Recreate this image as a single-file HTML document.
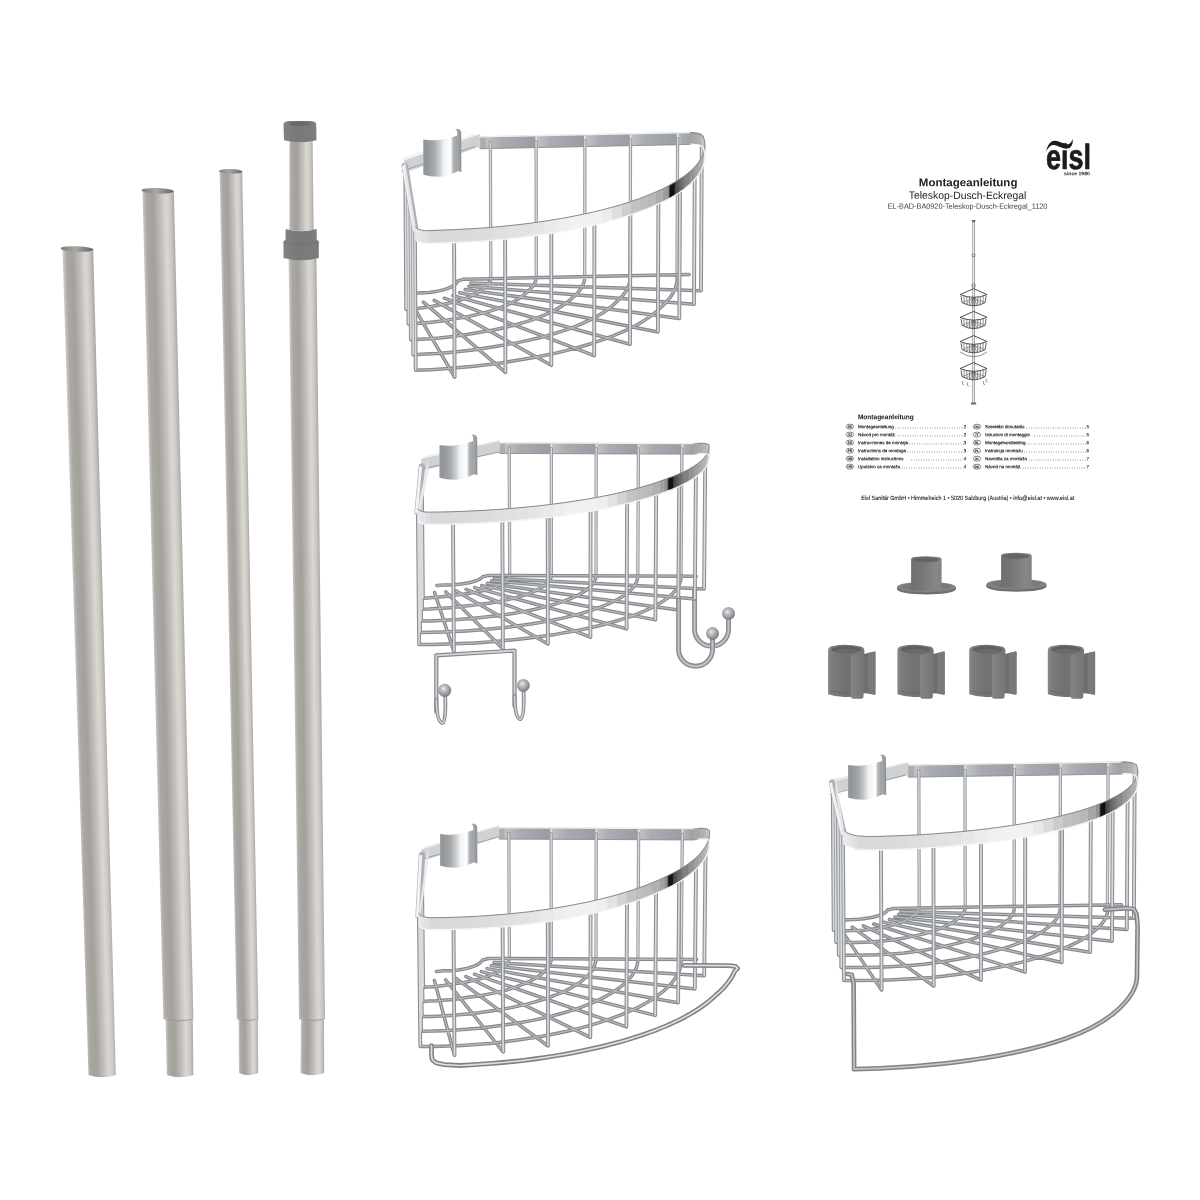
<!DOCTYPE html>
<html lang="de"><head><meta charset="utf-8"><title>Teleskop-Dusch-Eckregal</title>
<style>
html,body{margin:0;padding:0;background:#fff;}
body{width:1200px;height:1200px;position:relative;overflow:hidden;font-family:"Liberation Sans",sans-serif;}
svg text{font-family:"Liberation Sans",sans-serif;}
</style></head><body>
<svg width="1200" height="1200" viewBox="0 0 1200 1200" style="position:absolute;left:0;top:0;filter:blur(0.35px)">
<defs>
<linearGradient id="pg" x1="0" x2="1" y1="0" y2="0">
<stop offset="0" stop-color="#c9c7c3"/><stop offset="0.10" stop-color="#aba8a4"/><stop offset="0.32" stop-color="#a4a19d"/>
<stop offset="0.54" stop-color="#bfbcb8"/><stop offset="0.74" stop-color="#dbd8d4"/><stop offset="0.88" stop-color="#ccc9c4"/><stop offset="1" stop-color="#aeaba7"/>
</linearGradient>
<linearGradient id="pin" x1="0" x2="1" y1="0" y2="0">
<stop offset="0" stop-color="#7f7d7a"/><stop offset="0.45" stop-color="#a9a7a3"/><stop offset="1" stop-color="#676563"/>
</linearGradient>
<linearGradient id="capg" x1="0" x2="1" y1="0" y2="0">
<stop offset="0" stop-color="#7f8281"/><stop offset="0.4" stop-color="#767978"/><stop offset="1" stop-color="#7b7e7d"/>
</linearGradient>
</defs>
<linearGradient id="pg1" href="#pg" gradientUnits="userSpaceOnUse" x1="75.50" y1="663.00" x2="104.49" y2="662.15"/>
<path d="M62.50,249.00 L93.20,249.00 L115.80,1075.00 Q102.15,1079.50 88.50,1075.00 Z" fill="url(#pg1)"/>
<ellipse cx="77" cy="249" rx="16.3" ry="2.8" fill="url(#pin)" transform="rotate(2 77 249)"/>
<linearGradient id="pg2" href="#pg" gradientUnits="userSpaceOnUse" x1="152.90" y1="605.50" x2="183.64" y2="604.75"/>
<path d="M142.50,191.00 L173.90,191.00 L193.40,1018.00 Q178.35,1021.50 163.30,1018.00 Z" fill="url(#pg2)"/>
<linearGradient id="pg3" href="#pg" gradientUnits="userSpaceOnUse" x1="166.20" y1="1048.00" x2="193.10" y2="1047.58"/>
<path d="M165.60,1019.00 L192.80,1019.00 L193.40,1075.00 Q180.10,1079.50 166.80,1075.00 Z" fill="url(#pg3)"/>
<path d="M163.3,1018.5 Q178,1023 193.4,1018.5" stroke="#a09d99" stroke-width="1" fill="none"/>
<ellipse cx="157.6" cy="190.8" rx="16.2" ry="2.8" fill="url(#pin)" transform="rotate(2 157.6 190.8)"/>
<linearGradient id="pg4" href="#pg" gradientUnits="userSpaceOnUse" x1="228.15" y1="595.75" x2="250.30" y2="595.32"/>
<path d="M219.60,171.50 L242.20,171.50 L258.40,1018.00 Q247.55,1021.50 236.70,1018.00 Z" fill="url(#pg4)"/>
<linearGradient id="pg5" href="#pg" gradientUnits="userSpaceOnUse" x1="238.80" y1="1047.00" x2="258.00" y2="1046.86"/>
<path d="M238.60,1019.00 L257.80,1019.00 L258.20,1073.00 Q248.60,1077.50 239.00,1073.00 Z" fill="url(#pg5)"/>
<path d="M236.7,1018.5 Q247.5,1022.5 258.4,1018.5" stroke="#a09d99" stroke-width="1" fill="none"/>
<ellipse cx="230.6" cy="171.4" rx="11.8" ry="2.3" fill="url(#pin)" transform="rotate(2 230.6 171.4)"/>
<linearGradient id="pg6" href="#pg" gradientUnits="userSpaceOnUse" x1="289.30" y1="185.00" x2="313.10" y2="184.90"/>
<path d="M289.40,138.00 L312.60,138.00 L313.60,230.00 Q301.40,232.00 289.20,230.00 Z" fill="url(#pg6)"/>
<linearGradient id="pg7" href="#pg" gradientUnits="userSpaceOnUse" x1="293.80" y1="638.50" x2="320.70" y2="638.17"/>
<path d="M288.60,257.00 L316.40,257.00 L325.00,1018.00 Q312.00,1021.50 299.00,1018.00 Z" fill="url(#pg7)"/>
<linearGradient id="pg8" href="#pg" gradientUnits="userSpaceOnUse" x1="300.75" y1="1047.00" x2="324.10" y2="1047.06"/>
<path d="M301.00,1019.00 L324.00,1019.00 L324.20,1073.00 Q312.35,1077.50 300.50,1073.00 Z" fill="url(#pg8)"/>
<path d="M299,1018.5 Q312,1022.5 325,1018.5" stroke="#a09d99" stroke-width="1" fill="none"/>
<path d="M283.5,124.5 Q283.5,121 290,121 L310,121 Q316.2,121 316.2,124.5 L316.5,140.3 Q300,144.3 284,140.3 Z" fill="url(#capg)"/>
<ellipse cx="299.8" cy="123.6" rx="11" ry="2.4" fill="#686b6a"/>
<path d="M285.7,229 Q301,233.4 316.6,229 L316.8,240 L318.8,242 L318.8,258 Q301,262.6 283.5,258 L283.5,242 L285.5,240 Z" fill="url(#capg)"/>
<path d="M285.5,240 L283.5,242 Q301,246 318.8,242 L316.8,240" stroke="#6e7170" stroke-width="0.7" fill="none"/>
<defs>
<linearGradient id="backpanel" x1="0" x2="1" y1="0" y2="0">
<stop offset="0" stop-color="#c2c5c8"/><stop offset="0.3" stop-color="#a9acb0"/><stop offset="1" stop-color="#999ca0"/></linearGradient>
<linearGradient id="clipg" x1="0" x2="1" y1="0" y2="0">
<stop offset="0" stop-color="#a3a6a9"/><stop offset="0.06" stop-color="#8f9296"/><stop offset="0.3" stop-color="#a4a7aa"/><stop offset="0.46" stop-color="#c6c8ca"/><stop offset="0.6" stop-color="#f0f1f2"/><stop offset="0.8" stop-color="#ffffff"/><stop offset="0.87" stop-color="#b4b7ba"/><stop offset="1" stop-color="#9a9da0"/></linearGradient>
<linearGradient id="tabg" x1="0" x2="1" y1="0" y2="0">
<stop offset="0" stop-color="#d4d6d8"/><stop offset="0.35" stop-color="#a4a7aa"/><stop offset="1" stop-color="#8e9195"/></linearGradient>
<radialGradient id="ballg" cx="0.42" cy="0.38" r="0.62">
<stop offset="0" stop-color="#eeeff0"/><stop offset="0.3" stop-color="#bfc1c4"/><stop offset="0.75" stop-color="#939699"/><stop offset="1" stop-color="#76797d"/></radialGradient>
</defs>
<g id="b1"><path d="M479.7,136.8 L690.5,132.5 L690.4,144.4 L479.8,148.7Z" fill="#acadaf" stroke="#acadaf" stroke-width="0.6"/>
<path d="M690.5,132.5 L694.4,132.6 L694.4,144.2 L690.4,144.4Z" fill="#acadaf" stroke="#acadaf" stroke-width="0.6"/>
<path d="M404.7,161.4 L404.7,160.2 L404.8,172.3 L404.8,173.8Z" fill="#d0d1d3" stroke="#d0d1d3" stroke-width="0.6"/>
<path d="M404.7,160.2 L479.7,134.4 L479.8,146.4 L404.8,172.3Z" fill="#d0d1d3" stroke="#d0d1d3" stroke-width="0.6"/>
<path d="M485.8,136.7 L536.1,135.6 L536.1,147.5 L485.9,148.5Z" fill="url(#backpanel)"/>
<path d="M536.1,135.6 L584.9,134.7 L584.8,146.6 L536.1,147.5Z" fill="url(#backpanel)"/>
<path d="M536.1,136.6 L536.1,147.5" stroke="#e6e8ea" stroke-width="1.6"/>
<path d="M584.9,134.7 L630.5,133.7 L630.5,145.6 L584.8,146.6Z" fill="url(#backpanel)"/>
<path d="M584.9,135.7 L584.8,146.6" stroke="#e6e8ea" stroke-width="1.6"/>
<path d="M630.5,133.7 L677.6,132.8 L677.6,144.7 L630.5,145.6Z" fill="url(#backpanel)"/>
<path d="M630.5,134.7 L630.5,145.6" stroke="#e6e8ea" stroke-width="1.6"/>
<path d="M677.6,132.8 L692.8,132.5 L692.8,144.4 L677.6,144.7Z" fill="url(#backpanel)"/>
<path d="M677.6,133.8 L677.6,144.7" stroke="#e6e8ea" stroke-width="1.6"/>
<path d="M479.7,136.8 L690.5,132.5 M401.2,159.2 L475.2,134.4" fill="none" stroke="#eceeef" stroke-width="1.3"/><path d="M479.8,148.7 L690.4,144.4 M401.3,171.3 L475.3,146.4" fill="none" stroke="#8e9195" stroke-width="0.8"/>
<path d="M490.8,278.7 L490.4,142.5 M536.3,277.7 L536.1,141.6 M584.7,276.7 L584.9,140.6 M630.1,275.8 L630.5,139.7 M677.0,274.8 L677.6,138.7" fill="none" stroke="#979a9e" stroke-width="3.3" stroke-linecap="round" stroke-linejoin="round"/><path d="M490.8,278.7 L490.4,142.5 M536.3,277.7 L536.1,141.6 M584.7,276.7 L584.9,140.6 M630.1,275.8 L630.5,139.7 M677.0,274.8 L677.6,138.7" fill="none" stroke="#d6d8da" stroke-width="1.39" stroke-linecap="round" stroke-linejoin="round"/>
<path d="M490.8,278.7 L490.3,280.2 L489.6,281.7 L488.6,283.2 L487.3,284.7 L485.8,286.1 L484.0,287.6 L482.0,289.1 L480.4,290.5 L478.5,291.9 L476.4,293.2 L474.0,294.5 L471.5,295.8 L468.7,297.1 L465.7,298.3 L462.5,299.4 L459.1,300.5 L455.5,301.5 L451.8,302.5 L447.8,303.4 L443.8,304.2 L439.6,305.0 L435.3,305.7 L431.3,306.4 L427.3,307.1 L423.2,307.7 L419.0,308.3 L414.8,308.7 L410.5,309.1 L406.2,309.4 M536.3,277.7 L535.9,280.0 L535.1,282.3 L534.0,284.5 L532.4,286.8 L530.5,289.0 L528.2,291.3 L525.5,293.5 L523.0,295.6 L520.2,297.7 L517.0,299.8 L513.5,301.8 L509.6,303.8 L505.4,305.7 L500.8,307.5 L496.0,309.2 L490.8,310.9 L485.4,312.5 L479.7,313.9 L473.8,315.3 L467.6,316.6 L461.2,317.8 L454.7,318.8 L448.4,319.9 L442.0,320.9 L435.5,321.8 L428.8,322.5 L422.1,323.1 L415.3,323.6 L408.5,324.0 M584.7,276.7 L584.5,279.8 L583.8,282.9 L582.5,286.0 L580.7,289.1 L578.3,292.1 L575.4,295.2 L572.0,298.2 L568.7,301.1 L564.9,304.0 L560.6,306.9 L555.8,309.6 L550.5,312.3 L544.8,314.9 L538.6,317.4 L532.0,319.8 L525.0,322.1 L517.6,324.3 L509.8,326.3 L501.7,328.2 L493.3,330.0 L484.5,331.6 L475.5,333.0 L466.8,334.5 L457.8,335.8 L448.7,336.9 L439.4,337.9 L430.0,338.7 L420.5,339.3 L410.9,339.7 M630.1,275.8 L630.1,279.6 L629.4,283.5 L628.0,287.3 L625.9,291.2 L623.2,295.0 L619.8,298.8 L615.8,302.6 L611.7,306.3 L607.0,310.0 L601.7,313.5 L595.7,317.0 L589.2,320.4 L582.0,323.6 L574.3,326.8 L566.1,329.8 L557.3,332.7 L548.0,335.4 L538.3,338.0 L528.1,340.4 L517.5,342.6 L506.6,344.6 L495.3,346.5 L484.2,348.3 L472.8,349.9 L461.2,351.3 L449.4,352.4 L437.5,353.4 L425.4,354.1 L413.3,354.7 M677.0,274.8 L677.1,279.4 L676.5,284.1 L675.1,288.7 L672.8,293.4 L669.7,298.0 L665.8,302.7 L661.1,307.2 L656.3,311.7 L650.7,316.1 L644.3,320.4 L637.2,324.7 L629.3,328.8 L620.7,332.7 L611.4,336.5 L601.5,340.2 L590.9,343.7 L579.7,347.0 L568.0,350.1 L555.7,353.1 L542.9,355.8 L529.6,358.2 L515.9,360.5 L502.4,362.7 L488.5,364.6 L474.3,366.2 L459.9,367.6 L445.3,368.8 L430.6,369.7 L415.7,370.3 M470.8,283.0 L701.0,290.8 M468.8,286.2 L694.0,304.3 M465.1,289.6 L679.3,318.6 M459.7,292.7 L657.9,332.0 M452.9,295.6 L630.0,344.2 M444.4,298.2 L594.2,355.6 M434.2,300.4 L551.3,365.3 M423.4,302.1 L505.4,372.4 M411.5,303.1 L454.6,377.2 M411.1,293.9 L418.7,293.1 L418.7,293.1 L424.0,292.8 L429.2,292.4 L434.2,291.7 L438.8,290.9 L443.1,289.9 L447.0,288.7 L450.3,287.4 L453.1,285.9 L455.2,284.4 L456.7,282.8 L457.4,281.1 L463.6,279.2 L477.2,278.9 L689.1,274.4" fill="none" stroke="#85888c" stroke-width="3.5" stroke-linecap="round" stroke-linejoin="round"/><path d="M490.8,278.7 L490.3,280.2 L489.6,281.7 L488.6,283.2 L487.3,284.7 L485.8,286.1 L484.0,287.6 L482.0,289.1 L480.4,290.5 L478.5,291.9 L476.4,293.2 L474.0,294.5 L471.5,295.8 L468.7,297.1 L465.7,298.3 L462.5,299.4 L459.1,300.5 L455.5,301.5 L451.8,302.5 L447.8,303.4 L443.8,304.2 L439.6,305.0 L435.3,305.7 L431.3,306.4 L427.3,307.1 L423.2,307.7 L419.0,308.3 L414.8,308.7 L410.5,309.1 L406.2,309.4 M536.3,277.7 L535.9,280.0 L535.1,282.3 L534.0,284.5 L532.4,286.8 L530.5,289.0 L528.2,291.3 L525.5,293.5 L523.0,295.6 L520.2,297.7 L517.0,299.8 L513.5,301.8 L509.6,303.8 L505.4,305.7 L500.8,307.5 L496.0,309.2 L490.8,310.9 L485.4,312.5 L479.7,313.9 L473.8,315.3 L467.6,316.6 L461.2,317.8 L454.7,318.8 L448.4,319.9 L442.0,320.9 L435.5,321.8 L428.8,322.5 L422.1,323.1 L415.3,323.6 L408.5,324.0 M584.7,276.7 L584.5,279.8 L583.8,282.9 L582.5,286.0 L580.7,289.1 L578.3,292.1 L575.4,295.2 L572.0,298.2 L568.7,301.1 L564.9,304.0 L560.6,306.9 L555.8,309.6 L550.5,312.3 L544.8,314.9 L538.6,317.4 L532.0,319.8 L525.0,322.1 L517.6,324.3 L509.8,326.3 L501.7,328.2 L493.3,330.0 L484.5,331.6 L475.5,333.0 L466.8,334.5 L457.8,335.8 L448.7,336.9 L439.4,337.9 L430.0,338.7 L420.5,339.3 L410.9,339.7 M630.1,275.8 L630.1,279.6 L629.4,283.5 L628.0,287.3 L625.9,291.2 L623.2,295.0 L619.8,298.8 L615.8,302.6 L611.7,306.3 L607.0,310.0 L601.7,313.5 L595.7,317.0 L589.2,320.4 L582.0,323.6 L574.3,326.8 L566.1,329.8 L557.3,332.7 L548.0,335.4 L538.3,338.0 L528.1,340.4 L517.5,342.6 L506.6,344.6 L495.3,346.5 L484.2,348.3 L472.8,349.9 L461.2,351.3 L449.4,352.4 L437.5,353.4 L425.4,354.1 L413.3,354.7 M677.0,274.8 L677.1,279.4 L676.5,284.1 L675.1,288.7 L672.8,293.4 L669.7,298.0 L665.8,302.7 L661.1,307.2 L656.3,311.7 L650.7,316.1 L644.3,320.4 L637.2,324.7 L629.3,328.8 L620.7,332.7 L611.4,336.5 L601.5,340.2 L590.9,343.7 L579.7,347.0 L568.0,350.1 L555.7,353.1 L542.9,355.8 L529.6,358.2 L515.9,360.5 L502.4,362.7 L488.5,364.6 L474.3,366.2 L459.9,367.6 L445.3,368.8 L430.6,369.7 L415.7,370.3 M470.8,283.0 L701.0,290.8 M468.8,286.2 L694.0,304.3 M465.1,289.6 L679.3,318.6 M459.7,292.7 L657.9,332.0 M452.9,295.6 L630.0,344.2 M444.4,298.2 L594.2,355.6 M434.2,300.4 L551.3,365.3 M423.4,302.1 L505.4,372.4 M411.5,303.1 L454.6,377.2 M411.1,293.9 L418.7,293.1 L418.7,293.1 L424.0,292.8 L429.2,292.4 L434.2,291.7 L438.8,290.9 L443.1,289.9 L447.0,288.7 L450.3,287.4 L453.1,285.9 L455.2,284.4 L456.7,282.8 L457.4,281.1 L463.6,279.2 L477.2,278.9 L689.1,274.4" fill="none" stroke="#b6b8ba" stroke-width="1.26" stroke-linecap="round" stroke-linejoin="round"/>
<path d="M406.2,309.4 L405.3,170.8 M408.5,324.0 L407.6,184.7 M410.9,339.7 L410.1,199.8 M413.3,354.7 L412.4,214.0 M415.7,370.3 L414.9,228.9 M701.0,290.8 L701.8,140.9 M694.0,304.3 L694.7,175.7 M679.3,318.6 L680.0,188.3 M657.9,332.0 L658.4,200.1 M630.0,344.2 L630.4,210.8 M594.2,355.6 L594.4,221.2 M551.3,365.3 L551.3,229.5 M505.4,372.4 L505.1,235.3 M454.6,377.2 L454.1,238.6" fill="none" stroke="#8d9094" stroke-width="3.9" stroke-linecap="butt" stroke-linejoin="round"/><path d="M406.2,309.4 L405.3,170.8 M408.5,324.0 L407.6,184.7 M410.9,339.7 L410.1,199.8 M413.3,354.7 L412.4,214.0 M415.7,370.3 L414.9,228.9 M701.0,290.8 L701.8,140.9 M694.0,304.3 L694.7,175.7 M679.3,318.6 L680.0,188.3 M657.9,332.0 L658.4,200.1 M630.0,344.2 L630.4,210.8 M594.2,355.6 L594.4,221.2 M551.3,365.3 L551.3,229.5 M505.4,372.4 L505.1,235.3 M454.6,377.2 L454.1,238.6" fill="none" stroke="#d8dadc" stroke-width="1.64" stroke-linecap="butt" stroke-linejoin="round"/>
<path d="M404.8,165.7 L415.3,229.9" fill="none" stroke="#aeb1b8" stroke-width="6.6" stroke-linecap="round"/>
<path d="M403.5,166.7 L414.0,229.9" fill="none" stroke="#f3f4f5" stroke-width="2.8" stroke-linecap="round"/>
<path d="M690.5,132.5 L694.3,132.6 L694.2,144.2 L690.4,144.4Z" fill="#a6a7a9" stroke="#a6a7a9" stroke-width="0.6"/>
<path d="M694.3,132.6 L697.6,132.9 L697.6,144.3 L694.2,144.2Z" fill="#a8a9ab" stroke="#a8a9ab" stroke-width="0.6"/>
<path d="M697.6,132.9 L700.3,133.5 L700.2,144.7 L697.6,144.3Z" fill="#adaeb0" stroke="#adaeb0" stroke-width="0.6"/>
<path d="M700.3,133.5 L702.0,134.3 L701.9,145.3 L700.2,144.7Z" fill="#b3b4b6" stroke="#b3b4b6" stroke-width="0.6"/>
<path d="M702.0,134.3 L702.8,135.3 L702.7,146.1 L701.9,145.3Z" fill="#bcbdbf" stroke="#bcbdbf" stroke-width="0.6"/>
<path d="M702.8,135.3 L702.4,136.5 L702.4,147.0 L702.7,146.1Z" fill="#c5c6c8" stroke="#c5c6c8" stroke-width="0.6"/>
<path d="M702.4,136.5 L703.2,136.3 L703.2,147.1 L702.4,147.0Z" fill="#c9cacc" stroke="#c9cacc" stroke-width="0.6"/>
<path d="M703.2,136.3 L704.5,140.6 L704.4,151.8 L703.2,147.1Z" fill="#c4c5c7" stroke="#c4c5c7" stroke-width="0.6"/>
<path d="M704.5,140.6 L704.9,145.0 L704.8,156.6 L704.4,151.8Z" fill="#c3c4c6" stroke="#c3c4c6" stroke-width="0.6"/>
<path d="M704.9,145.0 L704.5,149.4 L704.4,161.3 L704.8,156.6Z" fill="#bfc0c2" stroke="#bfc0c2" stroke-width="0.6"/>
<path d="M704.5,149.4 L703.3,153.9 L703.2,166.0 L704.4,161.3Z" fill="#b9babc" stroke="#b9babc" stroke-width="0.6"/>
<path d="M703.3,153.9 L701.2,158.4 L701.1,170.7 L703.2,166.0Z" fill="#b3b4b6" stroke="#b3b4b6" stroke-width="0.6"/>
<path d="M701.2,158.4 L698.2,162.9 L698.1,175.4 L701.1,170.7Z" fill="#aaabad" stroke="#aaabad" stroke-width="0.6"/>
<path d="M698.2,162.9 L694.4,167.4 L694.3,180.0 L698.1,175.4Z" fill="#a2a3a5" stroke="#a2a3a5" stroke-width="0.6"/>
<path d="M694.4,167.4 L689.8,171.8 L689.7,184.6 L694.3,180.0Z" fill="#949597" stroke="#949597" stroke-width="0.6"/>
<path d="M689.8,171.8 L684.2,176.2 L684.2,189.1 L689.7,184.6Z" fill="#838486" stroke="#838486" stroke-width="0.6"/>
<path d="M684.2,176.2 L682.8,177.2 L682.7,190.2 L684.2,189.1Z" fill="#727375" stroke="#727375" stroke-width="0.6"/>
<path d="M682.8,177.2 L681.9,177.8 L681.8,190.8 L682.7,190.2Z" fill="#6d6e70" stroke="#6d6e70" stroke-width="0.6"/>
<path d="M681.9,177.8 L681.0,178.4 L680.9,191.4 L681.8,190.8Z" fill="#696a6c" stroke="#696a6c" stroke-width="0.6"/>
<path d="M681.0,178.4 L680.1,179.0 L680.0,192.1 L680.9,191.4Z" fill="#656668" stroke="#656668" stroke-width="0.6"/>
<path d="M680.1,179.0 L679.2,179.6 L679.1,192.7 L680.0,192.1Z" fill="#606163" stroke="#606163" stroke-width="0.6"/>
<path d="M679.2,179.6 L678.3,180.2 L678.2,193.3 L679.1,192.7Z" fill="#5a5b5d" stroke="#5a5b5d" stroke-width="0.6"/>
<path d="M678.3,180.2 L677.3,180.8 L677.2,193.9 L678.2,193.3Z" fill="#545557" stroke="#545557" stroke-width="0.6"/>
<path d="M677.3,180.8 L676.3,181.4 L676.3,194.5 L677.2,193.9Z" fill="#4e4f51" stroke="#4e4f51" stroke-width="0.6"/>
<path d="M676.3,181.4 L675.4,182.0 L675.3,195.1 L676.3,194.5Z" fill="#48494b" stroke="#48494b" stroke-width="0.6"/>
<path d="M675.4,182.0 L674.4,182.6 L674.3,195.7 L675.3,195.1Z" fill="#424345" stroke="#424345" stroke-width="0.6"/>
<path d="M674.4,182.6 L673.3,183.2 L673.3,196.3 L674.3,195.7Z" fill="#08090b" stroke="#08090b" stroke-width="0.6"/>
<path d="M673.3,183.2 L672.3,183.8 L672.3,196.9 L673.3,196.3Z" fill="#08090b" stroke="#08090b" stroke-width="0.6"/>
<path d="M672.3,183.8 L671.3,184.4 L671.2,197.5 L672.3,196.9Z" fill="#08090b" stroke="#08090b" stroke-width="0.6"/>
<path d="M671.3,184.4 L670.2,185.0 L670.1,198.1 L671.2,197.5Z" fill="#08090b" stroke="#08090b" stroke-width="0.6"/>
<path d="M670.2,185.0 L669.1,185.6 L669.1,198.7 L670.1,198.1Z" fill="#08090b" stroke="#08090b" stroke-width="0.6"/>
<path d="M669.1,185.6 L668.0,186.2 L668.0,199.2 L669.1,198.7Z" fill="#88898b" stroke="#88898b" stroke-width="0.6"/>
<path d="M668.0,186.2 L666.9,186.8 L666.9,199.8 L668.0,199.2Z" fill="#8e8f91" stroke="#8e8f91" stroke-width="0.6"/>
<path d="M666.9,186.8 L662.9,188.8 L662.9,201.9 L666.9,199.8Z" fill="#9b9c9e" stroke="#9b9c9e" stroke-width="0.6"/>
<path d="M662.9,188.8 L655.6,192.1 L655.6,205.2 L662.9,201.9Z" fill="#acadaf" stroke="#acadaf" stroke-width="0.6"/>
<path d="M655.6,192.1 L647.8,195.4 L647.8,208.5 L655.6,205.2Z" fill="#b8b9bb" stroke="#b8b9bb" stroke-width="0.6"/>
<path d="M647.8,195.4 L639.5,198.6 L639.5,211.7 L647.8,208.5Z" fill="#bcbdbf" stroke="#bcbdbf" stroke-width="0.6"/>
<path d="M639.5,198.6 L630.7,201.6 L630.7,214.8 L639.5,211.7Z" fill="#c0c1c3" stroke="#c0c1c3" stroke-width="0.6"/>
<path d="M630.7,201.6 L621.4,204.6 L621.4,217.7 L630.7,214.8Z" fill="#cecfd1" stroke="#cecfd1" stroke-width="0.6"/>
<path d="M621.4,204.6 L611.6,207.4 L611.6,220.5 L621.4,217.7Z" fill="#dedfe1" stroke="#dedfe1" stroke-width="0.6"/>
<path d="M611.6,207.4 L601.4,210.1 L601.4,223.2 L611.6,220.5Z" fill="#ebecee" stroke="#ebecee" stroke-width="0.6"/>
<path d="M601.4,210.1 L590.8,212.6 L590.8,225.8 L601.4,223.2Z" fill="#f0f1f3" stroke="#f0f1f3" stroke-width="0.6"/>
<path d="M590.8,212.6 L579.8,214.9 L579.8,228.1 L590.8,225.8Z" fill="#f0f1f3" stroke="#f0f1f3" stroke-width="0.6"/>
<path d="M579.8,214.9 L568.5,217.2 L568.5,230.4 L579.8,228.1Z" fill="#f0f1f3" stroke="#f0f1f3" stroke-width="0.6"/>
<path d="M568.5,217.2 L556.8,219.2 L556.8,232.4 L568.5,230.4Z" fill="#edeef0" stroke="#edeef0" stroke-width="0.6"/>
<path d="M556.8,219.2 L544.8,221.2 L544.8,234.3 L556.8,232.4Z" fill="#e9eaec" stroke="#e9eaec" stroke-width="0.6"/>
<path d="M544.8,221.2 L532.6,222.9 L532.6,236.0 L544.8,234.3Z" fill="#e5e6e8" stroke="#e5e6e8" stroke-width="0.6"/>
<path d="M532.6,222.9 L520.1,224.5 L520.1,237.5 L532.6,236.0Z" fill="#e1e2e4" stroke="#e1e2e4" stroke-width="0.6"/>
<path d="M520.1,224.5 L507.4,225.8 L507.4,238.9 L520.1,237.5Z" fill="#e0e1e3" stroke="#e0e1e3" stroke-width="0.6"/>
<path d="M507.4,225.8 L494.5,227.1 L494.6,240.1 L507.4,238.9Z" fill="#dedfe1" stroke="#dedfe1" stroke-width="0.6"/>
<path d="M494.5,227.1 L481.5,228.1 L481.6,241.1 L494.6,240.1Z" fill="#dcdddf" stroke="#dcdddf" stroke-width="0.6"/>
<path d="M481.5,228.1 L468.4,228.9 L468.4,241.9 L481.6,241.1Z" fill="#dadbdd" stroke="#dadbdd" stroke-width="0.6"/>
<path d="M468.4,228.9 L455.2,229.6 L455.2,242.5 L468.4,241.9Z" fill="#d9dadc" stroke="#d9dadc" stroke-width="0.6"/>
<path d="M455.2,229.6 L441.9,230.1 L442.0,242.9 L455.2,242.5Z" fill="#d8d9db" stroke="#d8d9db" stroke-width="0.6"/>
<path d="M441.9,230.1 L428.7,230.4 L428.8,243.1 L442.0,242.9Z" fill="#d8d9db" stroke="#d8d9db" stroke-width="0.6"/>
<path d="M429.7,230.7 L425.5,230.6 L425.5,243.2 L429.8,243.4Z" fill="#dedfe1" stroke="#dedfe1" stroke-width="0.6"/>
<path d="M425.5,230.6 L421.6,230.2 L421.7,242.8 L425.5,243.2Z" fill="#e1e2e4" stroke="#e1e2e4" stroke-width="0.6"/>
<path d="M421.6,230.2 L418.5,229.3 L418.6,242.0 L421.7,242.8Z" fill="#e4e5e7" stroke="#e4e5e7" stroke-width="0.6"/>
<path d="M418.5,229.3 L416.4,228.1 L416.5,240.8 L418.6,242.0Z" fill="#e6e7e9" stroke="#e6e7e9" stroke-width="0.6"/>
<path d="M416.4,228.1 L415.5,226.7 L415.6,239.3 L416.5,240.8Z" fill="#e8e9eb" stroke="#e8e9eb" stroke-width="0.6"/>
<path d="M415.5,226.7 L404.7,161.4 L404.8,173.8 L415.6,239.3Z" fill="#e8e9eb" stroke="#e8e9eb" stroke-width="0.6"/>
<path d="M689.9,132.6 L693.7,132.9 L697.1,133.5 L699.8,134.3 L701.6,135.3 L702.4,136.5 L703.2,136.3 L704.5,140.6 L704.9,145.0 L704.5,149.4 L703.3,153.9 L701.2,158.4 L698.2,162.9 L694.4,167.4 L689.8,171.8 L684.2,176.2 L682.8,177.2 L681.9,177.8 L681.0,178.4 L680.1,179.0 L679.2,179.6 L678.3,180.2 L677.3,180.8 L676.3,181.4 L675.4,182.0 L674.4,182.6 L673.3,183.2 L672.3,183.8 L671.3,184.4 L670.2,185.0 L669.1,185.6 L668.0,186.2 L666.9,186.8 L662.9,188.8 L655.6,192.1 L647.8,195.4 L639.5,198.6 L630.7,201.6 L621.4,204.6 L611.6,207.4 L601.4,210.1 L590.8,212.6 L579.8,214.9 L568.5,217.2 L556.8,219.2 L544.8,221.2 L532.6,222.9 L520.1,224.5 L507.4,225.8 L494.5,227.1 L481.5,228.1 L468.4,228.9 L455.2,229.6 L441.9,230.1 L429.7,230.7 L425.5,230.6 L421.6,230.2 L418.5,229.3 L416.4,228.1 L415.5,226.7" fill="none" stroke="#85888c" stroke-width="1.0"/><path d="M689.9,144.2 L693.7,144.3 L697.0,144.7 L699.7,145.3 L701.5,146.1 L702.4,147.0 L703.2,147.1 L704.4,151.8 L704.8,156.6 L704.4,161.3 L703.2,166.0 L701.1,170.7 L698.1,175.4 L694.3,180.0 L689.7,184.6 L684.2,189.1 L682.7,190.2 L681.8,190.8 L680.9,191.4 L680.0,192.1 L679.1,192.7 L678.2,193.3 L677.2,193.9 L676.3,194.5 L675.3,195.1 L674.3,195.7 L673.3,196.3 L672.3,196.9 L671.2,197.5 L670.1,198.1 L669.1,198.7 L668.0,199.2 L666.9,199.8 L662.9,201.9 L655.6,205.2 L647.8,208.5 L639.5,211.7 L630.7,214.8 L621.4,217.7 L611.6,220.5 L601.4,223.2 L590.8,225.8 L579.8,228.1 L568.5,230.4 L556.8,232.4 L544.8,234.3 L532.6,236.0 L520.1,237.5 L507.4,238.9 L494.6,240.1 L481.6,241.1 L468.4,241.9 L455.2,242.5 L442.0,242.9 L429.8,243.4 L425.5,243.2 L421.7,242.8 L418.6,242.0 L416.5,240.8 L415.6,239.3" fill="none" stroke="#f4f5f6" stroke-width="1.3"/>
<path d="M423.2,139.4 Q438.7,142.0 457.6,135.4 L457.6,171.5 L448.0,175.4 Q437.0,178.6 423.2,174.8Z" fill="url(#clipg)"/>
<path d="M457.2,133.8 Q457.6,130.3 454.8,129.4 Q459.4,127.4 461.2,131.8 L461.4,172.0 L457.4,170.8Z" fill="url(#tabg)"/></g>
<g id="b2"><path d="M499.4,442.9 L693.8,443.6 L693.7,454.1 L499.4,453.4Z" fill="#acadaf" stroke="#acadaf" stroke-width="0.6"/>
<path d="M693.8,443.6 L697.5,443.3 L697.4,453.7 L693.7,454.1Z" fill="#acadaf" stroke="#acadaf" stroke-width="0.6"/>
<path d="M421.9,462.6 L421.9,459.0 L422.0,470.4 L422.0,474.2Z" fill="#d0d1d3" stroke="#d0d1d3" stroke-width="0.6"/>
<path d="M421.9,459.0 L499.4,440.7 L499.4,451.9 L422.0,470.4Z" fill="#d0d1d3" stroke="#d0d1d3" stroke-width="0.6"/>
<path d="M505.0,442.9 L551.3,443.1 L551.3,453.6 L505.0,453.4Z" fill="url(#backpanel)"/>
<path d="M551.3,443.1 L596.3,443.2 L596.2,453.7 L551.3,453.6Z" fill="url(#backpanel)"/>
<path d="M551.3,444.1 L551.3,453.6" stroke="#e6e8ea" stroke-width="1.6"/>
<path d="M596.3,443.2 L638.4,443.4 L638.4,453.9 L596.2,453.7Z" fill="url(#backpanel)"/>
<path d="M596.3,444.2 L596.2,453.7" stroke="#e6e8ea" stroke-width="1.6"/>
<path d="M638.4,443.4 L682.0,443.5 L681.9,454.0 L638.4,453.9Z" fill="url(#backpanel)"/>
<path d="M638.4,444.4 L638.4,453.9" stroke="#e6e8ea" stroke-width="1.6"/>
<path d="M682.0,443.5 L696.0,443.6 L695.9,454.1 L681.9,454.0Z" fill="url(#backpanel)"/>
<path d="M682.0,444.5 L681.9,454.0" stroke="#e6e8ea" stroke-width="1.6"/>
<path d="M499.4,442.9 L693.8,443.6 M424.4,457.0 L499.4,440.7" fill="none" stroke="#eceeef" stroke-width="1.3"/><path d="M499.4,453.4 L693.7,454.1 M424.5,468.4 L499.4,451.9" fill="none" stroke="#8e9195" stroke-width="0.8"/>
<path d="M509.7,575.4 L509.2,448.2 M551.4,575.6 L551.3,448.3 M596.0,575.8 L596.2,448.5 M637.8,575.9 L638.4,448.6 M681.0,576.1 L681.9,448.8" fill="none" stroke="#979a9e" stroke-width="3.3" stroke-linecap="round" stroke-linejoin="round"/><path d="M509.7,575.4 L509.2,448.2 M551.4,575.6 L551.3,448.3 M596.0,575.8 L596.2,448.5 M637.8,575.9 L638.4,448.6 M681.0,576.1 L681.9,448.8" fill="none" stroke="#d6d8da" stroke-width="1.39" stroke-linecap="round" stroke-linejoin="round"/>
<path d="M694.6,588 L694.6,630.5 A17,17 0 0 0 728.5,630.5 L728.5,619" fill="none" stroke="#8b8e92" stroke-width="5.0" stroke-linecap="round" stroke-linejoin="round"/><path d="M694.6,588 L694.6,630.5 A17,17 0 0 0 728.5,630.5 L728.5,619" fill="none" stroke="#c0c2c4" stroke-width="2.00" stroke-linecap="round" stroke-linejoin="round"/>
<circle cx="728.5" cy="613.5" r="6.5" fill="url(#ballg)"/>
<path d="M509.7,575.4 L509.4,576.6 L509.0,577.7 L508.2,578.8 L507.3,579.9 L506.1,581.0 L504.7,582.1 L503.0,583.2 L501.2,584.2 L499.1,585.3 L496.8,586.3 L494.3,587.2 L491.6,588.1 L488.7,589.0 L485.7,589.9 L482.4,590.7 L479.0,591.5 L475.5,592.2 L471.8,592.8 L467.9,593.5 L464.0,594.0 L459.9,594.5 L455.8,595.0 L451.2,595.6 L446.6,596.2 L441.9,596.8 L437.2,597.2 L432.4,597.6 L427.6,598.0 L422.9,598.3 M551.4,575.6 L551.1,577.3 L550.5,579.0 L549.4,580.7 L548.1,582.4 L546.3,584.1 L544.2,585.8 L541.8,587.4 L539.0,589.0 L535.9,590.6 L532.4,592.1 L528.7,593.6 L524.6,595.0 L520.3,596.4 L515.6,597.7 L510.7,598.9 L505.5,600.1 L500.1,601.2 L494.5,602.2 L488.6,603.2 L482.6,604.0 L476.4,604.8 L470.0,605.5 L463.4,606.3 L456.6,607.0 L449.8,607.7 L442.9,608.2 L436.0,608.6 L429.0,609.0 L422.0,609.2 M596.0,575.8 L595.7,578.1 L594.9,580.5 L593.6,582.8 L591.8,585.1 L589.5,587.4 L586.7,589.7 L583.4,592.0 L579.7,594.2 L575.5,596.3 L570.9,598.4 L565.8,600.4 L560.3,602.4 L554.3,604.3 L548.0,606.1 L541.3,607.8 L534.2,609.5 L526.8,611.0 L519.1,612.4 L511.1,613.7 L502.8,614.9 L494.2,616.0 L485.5,617.0 L476.6,617.9 L467.6,618.8 L458.4,619.5 L449.2,620.1 L439.8,620.6 L430.5,620.9 L421.1,621.1 M637.8,575.9 L637.5,578.9 L636.6,581.8 L635.1,584.7 L632.9,587.7 L630.2,590.6 L626.8,593.4 L622.8,596.2 L618.2,599.0 L613.0,601.7 L607.3,604.4 L601.0,606.9 L594.1,609.4 L586.7,611.8 L578.8,614.1 L570.4,616.3 L561.5,618.4 L552.2,620.3 L542.5,622.1 L532.5,623.8 L522.1,625.3 L511.3,626.7 L500.3,627.9 L489.3,629.1 L478.0,630.1 L466.6,630.9 L455.1,631.5 L443.5,632.0 L431.8,632.3 L420.1,632.5 M681.0,576.1 L680.8,579.7 L679.8,583.2 L678.1,586.7 L675.7,590.3 L672.4,593.8 L668.5,597.3 L663.8,600.7 L658.3,604.1 L652.2,607.4 L645.3,610.6 L637.7,613.8 L629.5,616.8 L620.6,619.7 L611.1,622.5 L600.9,625.2 L590.2,627.7 L579.0,630.1 L567.2,632.3 L555.0,634.4 L542.3,636.2 L529.3,637.9 L515.9,639.4 L502.6,640.8 L489.1,641.9 L475.3,642.9 L461.4,643.6 L447.3,644.1 L433.2,644.4 L419.1,644.5 M494.4,578.4 L704.1,588.9 M491.7,580.8 L694.8,599.1 M487.4,583.3 L678.2,609.9 M481.7,585.6 L655.4,619.9 M474.7,587.6 L626.6,628.9 M466.1,589.4 L590.4,637.2 M456.2,590.9 L547.9,644.0 M445.8,591.9 L502.9,648.7 M434.6,592.5 L453.9,651.4 M436.9,585.5 L444.0,585.0 L444.0,585.0 L448.9,584.9 L453.8,584.7 L458.6,584.3 L463.1,583.8 L467.3,583.1 L471.1,582.2 L474.5,581.3 L477.4,580.3 L479.7,579.1 L481.5,577.9 L482.7,576.7 L488.8,575.4 L501.3,575.4 L696.3,576.2" fill="none" stroke="#85888c" stroke-width="3.5" stroke-linecap="round" stroke-linejoin="round"/><path d="M509.7,575.4 L509.4,576.6 L509.0,577.7 L508.2,578.8 L507.3,579.9 L506.1,581.0 L504.7,582.1 L503.0,583.2 L501.2,584.2 L499.1,585.3 L496.8,586.3 L494.3,587.2 L491.6,588.1 L488.7,589.0 L485.7,589.9 L482.4,590.7 L479.0,591.5 L475.5,592.2 L471.8,592.8 L467.9,593.5 L464.0,594.0 L459.9,594.5 L455.8,595.0 L451.2,595.6 L446.6,596.2 L441.9,596.8 L437.2,597.2 L432.4,597.6 L427.6,598.0 L422.9,598.3 M551.4,575.6 L551.1,577.3 L550.5,579.0 L549.4,580.7 L548.1,582.4 L546.3,584.1 L544.2,585.8 L541.8,587.4 L539.0,589.0 L535.9,590.6 L532.4,592.1 L528.7,593.6 L524.6,595.0 L520.3,596.4 L515.6,597.7 L510.7,598.9 L505.5,600.1 L500.1,601.2 L494.5,602.2 L488.6,603.2 L482.6,604.0 L476.4,604.8 L470.0,605.5 L463.4,606.3 L456.6,607.0 L449.8,607.7 L442.9,608.2 L436.0,608.6 L429.0,609.0 L422.0,609.2 M596.0,575.8 L595.7,578.1 L594.9,580.5 L593.6,582.8 L591.8,585.1 L589.5,587.4 L586.7,589.7 L583.4,592.0 L579.7,594.2 L575.5,596.3 L570.9,598.4 L565.8,600.4 L560.3,602.4 L554.3,604.3 L548.0,606.1 L541.3,607.8 L534.2,609.5 L526.8,611.0 L519.1,612.4 L511.1,613.7 L502.8,614.9 L494.2,616.0 L485.5,617.0 L476.6,617.9 L467.6,618.8 L458.4,619.5 L449.2,620.1 L439.8,620.6 L430.5,620.9 L421.1,621.1 M637.8,575.9 L637.5,578.9 L636.6,581.8 L635.1,584.7 L632.9,587.7 L630.2,590.6 L626.8,593.4 L622.8,596.2 L618.2,599.0 L613.0,601.7 L607.3,604.4 L601.0,606.9 L594.1,609.4 L586.7,611.8 L578.8,614.1 L570.4,616.3 L561.5,618.4 L552.2,620.3 L542.5,622.1 L532.5,623.8 L522.1,625.3 L511.3,626.7 L500.3,627.9 L489.3,629.1 L478.0,630.1 L466.6,630.9 L455.1,631.5 L443.5,632.0 L431.8,632.3 L420.1,632.5 M681.0,576.1 L680.8,579.7 L679.8,583.2 L678.1,586.7 L675.7,590.3 L672.4,593.8 L668.5,597.3 L663.8,600.7 L658.3,604.1 L652.2,607.4 L645.3,610.6 L637.7,613.8 L629.5,616.8 L620.6,619.7 L611.1,622.5 L600.9,625.2 L590.2,627.7 L579.0,630.1 L567.2,632.3 L555.0,634.4 L542.3,636.2 L529.3,637.9 L515.9,639.4 L502.6,640.8 L489.1,641.9 L475.3,642.9 L461.4,643.6 L447.3,644.1 L433.2,644.4 L419.1,644.5 M494.4,578.4 L704.1,588.9 M491.7,580.8 L694.8,599.1 M487.4,583.3 L678.2,609.9 M481.7,585.6 L655.4,619.9 M474.7,587.6 L626.6,628.9 M466.1,589.4 L590.4,637.2 M456.2,590.9 L547.9,644.0 M445.8,591.9 L502.9,648.7 M434.6,592.5 L453.9,651.4 M436.9,585.5 L444.0,585.0 L444.0,585.0 L448.9,584.9 L453.8,584.7 L458.6,584.3 L463.1,583.8 L467.3,583.1 L471.1,582.2 L474.5,581.3 L477.4,580.3 L479.7,579.1 L481.5,577.9 L482.7,576.7 L488.8,575.4 L501.3,575.4 L696.3,576.2" fill="none" stroke="#b6b8ba" stroke-width="1.26" stroke-linecap="round" stroke-linejoin="round"/>
<path d="M422.9,598.3 L421.7,470.7 M422.0,609.2 L420.9,480.4 M421.1,621.1 L419.9,491.0 M420.1,632.5 L418.9,501.1 M419.1,644.5 L417.9,511.8 M704.1,588.9 L705.2,464.6 M694.8,599.1 L695.9,473.3 M678.2,609.9 L679.2,482.8 M655.4,619.9 L656.2,491.3 M626.6,628.9 L627.1,499.9 M590.4,637.2 L590.6,507.3 M547.9,644.0 L547.7,513.5 M502.9,648.7 L502.3,517.9 M453.9,651.4 L453.0,520.4" fill="none" stroke="#8d9094" stroke-width="3.9" stroke-linecap="butt" stroke-linejoin="round"/><path d="M422.9,598.3 L421.7,470.7 M422.0,609.2 L420.9,480.4 M421.1,621.1 L419.9,491.0 M420.1,632.5 L418.9,501.1 M419.1,644.5 L417.9,511.8 M704.1,588.9 L705.2,464.6 M694.8,599.1 L695.9,473.3 M678.2,609.9 L679.2,482.8 M655.4,619.9 L656.2,491.3 M626.6,628.9 L627.1,499.9 M590.4,637.2 L590.6,507.3 M547.9,644.0 L547.7,513.5 M502.9,648.7 L502.3,517.9 M453.9,651.4 L453.0,520.4" fill="none" stroke="#d8dadc" stroke-width="1.64" stroke-linecap="butt" stroke-linejoin="round"/>
<path d="M421.9,466.7 L417.7,512.1" fill="none" stroke="#aeb1b8" stroke-width="6.6" stroke-linecap="round"/>
<path d="M420.6,467.7 L416.4,512.1" fill="none" stroke="#f3f4f5" stroke-width="2.8" stroke-linecap="round"/>
<path d="M693.8,443.6 L697.5,443.3 L697.4,453.7 L693.7,454.1Z" fill="#a6a7a9" stroke="#a6a7a9" stroke-width="0.6"/>
<path d="M697.5,443.3 L700.9,443.3 L700.8,453.6 L697.4,453.7Z" fill="#a8a9ab" stroke="#a8a9ab" stroke-width="0.6"/>
<path d="M700.9,443.3 L703.8,443.4 L703.7,453.6 L700.8,453.6Z" fill="#adaeb0" stroke="#adaeb0" stroke-width="0.6"/>
<path d="M703.8,443.4 L706.1,443.7 L706.0,453.8 L703.7,453.6Z" fill="#b3b4b6" stroke="#b3b4b6" stroke-width="0.6"/>
<path d="M706.1,443.7 L707.6,444.1 L707.5,454.1 L706.0,453.8Z" fill="#bcbdbf" stroke="#bcbdbf" stroke-width="0.6"/>
<path d="M707.6,444.1 L708.1,444.6 L708.0,454.5 L707.5,454.1Z" fill="#c5c6c8" stroke="#c5c6c8" stroke-width="0.6"/>
<path d="M708.1,444.6 L708.9,444.4 L708.8,454.6 L708.0,454.5Z" fill="#c9cacc" stroke="#c9cacc" stroke-width="0.6"/>
<path d="M708.9,444.4 L709.1,447.5 L709.0,458.1 L708.8,454.6Z" fill="#c4c5c7" stroke="#c4c5c7" stroke-width="0.6"/>
<path d="M709.1,447.5 L708.5,450.6 L708.4,461.5 L709.0,458.1Z" fill="#c2c3c5" stroke="#c2c3c5" stroke-width="0.6"/>
<path d="M708.5,450.6 L707.2,453.7 L707.1,465.0 L708.4,461.5Z" fill="#bebfc1" stroke="#bebfc1" stroke-width="0.6"/>
<path d="M707.2,453.7 L705.1,456.8 L705.0,468.3 L707.1,465.0Z" fill="#b8b9bb" stroke="#b8b9bb" stroke-width="0.6"/>
<path d="M705.1,456.8 L702.2,460.0 L702.1,471.7 L705.0,468.3Z" fill="#b2b3b5" stroke="#b2b3b5" stroke-width="0.6"/>
<path d="M702.2,460.0 L698.4,463.2 L698.3,475.0 L702.1,471.7Z" fill="#a9aaac" stroke="#a9aaac" stroke-width="0.6"/>
<path d="M698.4,463.2 L693.9,466.3 L693.8,478.3 L698.3,475.0Z" fill="#a0a1a3" stroke="#a0a1a3" stroke-width="0.6"/>
<path d="M693.9,466.3 L688.6,469.4 L688.5,481.6 L693.8,478.3Z" fill="#919294" stroke="#919294" stroke-width="0.6"/>
<path d="M688.6,469.4 L682.5,472.5 L682.4,484.8 L688.5,481.6Z" fill="#7f8082" stroke="#7f8082" stroke-width="0.6"/>
<path d="M682.5,472.5 L680.9,473.2 L680.8,485.6 L682.4,484.8Z" fill="#6d6e70" stroke="#6d6e70" stroke-width="0.6"/>
<path d="M680.9,473.2 L679.9,473.6 L679.8,486.0 L680.8,485.6Z" fill="#68696b" stroke="#68696b" stroke-width="0.6"/>
<path d="M679.9,473.6 L679.0,474.1 L678.9,486.5 L679.8,486.0Z" fill="#646567" stroke="#646567" stroke-width="0.6"/>
<path d="M679.0,474.1 L678.0,474.5 L677.9,486.9 L678.9,486.5Z" fill="#5f6062" stroke="#5f6062" stroke-width="0.6"/>
<path d="M678.0,474.5 L677.0,474.9 L676.9,487.3 L677.9,486.9Z" fill="#595a5c" stroke="#595a5c" stroke-width="0.6"/>
<path d="M677.0,474.9 L676.0,475.3 L675.9,487.8 L676.9,487.3Z" fill="#535456" stroke="#535456" stroke-width="0.6"/>
<path d="M676.0,475.3 L675.0,475.7 L674.9,488.2 L675.9,487.8Z" fill="#4c4d4f" stroke="#4c4d4f" stroke-width="0.6"/>
<path d="M675.0,475.7 L673.9,476.2 L673.8,488.6 L674.9,488.2Z" fill="#464749" stroke="#464749" stroke-width="0.6"/>
<path d="M673.9,476.2 L672.9,476.6 L672.8,489.0 L673.8,488.6Z" fill="#404143" stroke="#404143" stroke-width="0.6"/>
<path d="M672.9,476.6 L671.8,477.0 L671.7,489.5 L672.8,489.0Z" fill="#08090b" stroke="#08090b" stroke-width="0.6"/>
<path d="M671.8,477.0 L670.7,477.4 L670.6,489.9 L671.7,489.5Z" fill="#08090b" stroke="#08090b" stroke-width="0.6"/>
<path d="M670.7,477.4 L669.6,477.8 L669.5,490.3 L670.6,489.9Z" fill="#08090b" stroke="#08090b" stroke-width="0.6"/>
<path d="M669.6,477.8 L668.5,478.2 L668.4,490.7 L669.5,490.3Z" fill="#08090b" stroke="#08090b" stroke-width="0.6"/>
<path d="M668.5,478.2 L667.4,478.7 L667.3,491.1 L668.4,490.7Z" fill="#212224" stroke="#212224" stroke-width="0.6"/>
<path d="M667.4,478.7 L666.2,479.1 L666.2,491.6 L667.3,491.1Z" fill="#8a8b8d" stroke="#8a8b8d" stroke-width="0.6"/>
<path d="M666.2,479.1 L665.1,479.5 L665.0,492.0 L666.2,491.6Z" fill="#909193" stroke="#909193" stroke-width="0.6"/>
<path d="M665.1,479.5 L663.9,479.9 L663.8,492.4 L665.0,492.0Z" fill="#959698" stroke="#959698" stroke-width="0.6"/>
<path d="M663.9,479.9 L659.7,481.4 L659.6,494.0 L663.8,492.4Z" fill="#a0a1a3" stroke="#a0a1a3" stroke-width="0.6"/>
<path d="M659.7,481.4 L652.1,484.0 L652.0,496.5 L659.6,494.0Z" fill="#b0b1b3" stroke="#b0b1b3" stroke-width="0.6"/>
<path d="M652.1,484.0 L644.0,486.4 L644.0,499.0 L652.0,496.5Z" fill="#b9babc" stroke="#b9babc" stroke-width="0.6"/>
<path d="M644.0,486.4 L635.5,488.8 L635.4,501.4 L644.0,499.0Z" fill="#bdbec0" stroke="#bdbec0" stroke-width="0.6"/>
<path d="M635.5,488.8 L626.4,491.1 L626.4,503.7 L635.4,501.4Z" fill="#c2c3c5" stroke="#c2c3c5" stroke-width="0.6"/>
<path d="M626.4,491.1 L617.0,493.3 L616.9,505.9 L626.4,503.7Z" fill="#d2d3d5" stroke="#d2d3d5" stroke-width="0.6"/>
<path d="M617.0,493.3 L607.1,495.4 L607.1,508.0 L616.9,505.9Z" fill="#e1e2e4" stroke="#e1e2e4" stroke-width="0.6"/>
<path d="M607.1,495.4 L596.9,497.4 L596.8,510.1 L607.1,508.0Z" fill="#edeef0" stroke="#edeef0" stroke-width="0.6"/>
<path d="M596.9,497.4 L586.2,499.3 L586.2,511.9 L596.8,510.1Z" fill="#f0f1f3" stroke="#f0f1f3" stroke-width="0.6"/>
<path d="M586.2,499.3 L575.3,501.0 L575.3,513.7 L586.2,511.9Z" fill="#f0f1f3" stroke="#f0f1f3" stroke-width="0.6"/>
<path d="M575.3,501.0 L564.0,502.7 L564.0,515.4 L575.3,513.7Z" fill="#f0f1f3" stroke="#f0f1f3" stroke-width="0.6"/>
<path d="M564.0,502.7 L552.5,504.2 L552.5,516.9 L564.0,515.4Z" fill="#ecedef" stroke="#ecedef" stroke-width="0.6"/>
<path d="M552.5,504.2 L540.7,505.6 L540.7,518.3 L552.5,516.9Z" fill="#e8e9eb" stroke="#e8e9eb" stroke-width="0.6"/>
<path d="M540.7,505.6 L528.7,506.9 L528.7,519.5 L540.7,518.3Z" fill="#e4e5e7" stroke="#e4e5e7" stroke-width="0.6"/>
<path d="M528.7,506.9 L516.5,508.0 L516.5,520.6 L528.7,519.5Z" fill="#e1e2e4" stroke="#e1e2e4" stroke-width="0.6"/>
<path d="M516.5,508.0 L504.1,509.0 L504.2,521.6 L516.5,520.6Z" fill="#dfe0e2" stroke="#dfe0e2" stroke-width="0.6"/>
<path d="M504.1,509.0 L491.6,509.9 L491.7,522.4 L504.2,521.6Z" fill="#dddee0" stroke="#dddee0" stroke-width="0.6"/>
<path d="M491.6,509.9 L479.1,510.6 L479.1,523.1 L491.7,522.4Z" fill="#dbdcde" stroke="#dbdcde" stroke-width="0.6"/>
<path d="M479.1,510.6 L466.5,511.2 L466.6,523.7 L479.1,523.1Z" fill="#dadbdd" stroke="#dadbdd" stroke-width="0.6"/>
<path d="M466.5,511.2 L453.9,511.7 L453.9,524.1 L466.6,523.7Z" fill="#d9dadc" stroke="#d9dadc" stroke-width="0.6"/>
<path d="M453.9,511.7 L441.2,512.0 L441.3,524.4 L453.9,524.1Z" fill="#d8d9db" stroke="#d8d9db" stroke-width="0.6"/>
<path d="M441.2,512.0 L428.7,512.2 L428.8,524.5 L441.3,524.4Z" fill="#d7d8da" stroke="#d7d8da" stroke-width="0.6"/>
<path d="M429.7,512.2 L425.9,512.1 L426.0,524.3 L429.8,524.5Z" fill="#dedfe1" stroke="#dedfe1" stroke-width="0.6"/>
<path d="M425.9,512.1 L422.5,511.5 L422.6,523.7 L426.0,524.3Z" fill="#e1e2e4" stroke="#e1e2e4" stroke-width="0.6"/>
<path d="M422.5,511.5 L419.9,510.7 L420.0,522.9 L422.6,523.7Z" fill="#e4e5e7" stroke="#e4e5e7" stroke-width="0.6"/>
<path d="M419.9,510.7 L418.3,509.7 L418.5,521.9 L420.0,522.9Z" fill="#e6e7e9" stroke="#e6e7e9" stroke-width="0.6"/>
<path d="M418.3,509.7 L418.0,508.6 L418.1,520.7 L418.5,521.9Z" fill="#e8e9eb" stroke="#e8e9eb" stroke-width="0.6"/>
<path d="M418.0,508.6 L427.9,460.6 L428.0,472.2 L418.1,520.7Z" fill="#e8e9eb" stroke="#e8e9eb" stroke-width="0.6"/>
<path d="M697.5,443.3 L700.9,443.3 L703.8,443.4 L706.1,443.7 L707.6,444.1 L708.1,444.6 L708.9,444.4 L709.1,447.5 L708.5,450.6 L707.2,453.7 L705.1,456.8 L702.2,460.0 L698.4,463.2 L693.9,466.3 L688.6,469.4 L682.5,472.5 L680.9,473.2 L679.9,473.6 L679.0,474.1 L678.0,474.5 L677.0,474.9 L676.0,475.3 L675.0,475.7 L673.9,476.2 L672.9,476.6 L671.8,477.0 L670.7,477.4 L669.6,477.8 L668.5,478.2 L667.4,478.7 L666.2,479.1 L665.1,479.5 L663.9,479.9 L659.7,481.4 L652.1,484.0 L644.0,486.4 L635.5,488.8 L626.4,491.1 L617.0,493.3 L607.1,495.4 L596.9,497.4 L586.2,499.3 L575.3,501.0 L564.0,502.7 L552.5,504.2 L540.7,505.6 L528.7,506.9 L516.5,508.0 L504.1,509.0 L491.6,509.9 L479.1,510.6 L466.5,511.2 L453.9,511.7 L441.2,512.0 L429.7,512.2 L425.9,512.1 L422.5,511.5 L419.9,510.7 L418.3,509.7 L418.0,508.6" fill="none" stroke="#85888c" stroke-width="1.0"/><path d="M697.4,453.7 L700.8,453.6 L703.7,453.6 L706.0,453.8 L707.5,454.1 L708.0,454.5 L708.8,454.6 L709.0,458.1 L708.4,461.5 L707.1,465.0 L705.0,468.3 L702.1,471.7 L698.3,475.0 L693.8,478.3 L688.5,481.6 L682.4,484.8 L680.8,485.6 L679.8,486.0 L678.9,486.5 L677.9,486.9 L676.9,487.3 L675.9,487.8 L674.9,488.2 L673.8,488.6 L672.8,489.0 L671.7,489.5 L670.6,489.9 L669.5,490.3 L668.4,490.7 L667.3,491.1 L666.2,491.6 L665.0,492.0 L663.8,492.4 L659.6,494.0 L652.0,496.5 L644.0,499.0 L635.4,501.4 L626.4,503.7 L616.9,505.9 L607.1,508.0 L596.8,510.1 L586.2,511.9 L575.3,513.7 L564.0,515.4 L552.5,516.9 L540.7,518.3 L528.7,519.5 L516.5,520.6 L504.2,521.6 L491.7,522.4 L479.1,523.1 L466.6,523.7 L453.9,524.1 L441.3,524.4 L429.8,524.5 L426.0,524.3 L422.6,523.7 L420.0,522.9 L418.5,521.9 L418.1,520.7" fill="none" stroke="#f4f5f6" stroke-width="1.3"/>
<path d="M439.4,445.0 Q454.8,447.6 473.6,441.0 L473.6,474.5 L464.0,478.4 Q453.1,481.6 439.4,477.8Z" fill="url(#clipg)"/>
<path d="M473.2,439.4 Q473.6,435.9 470.8,435.0 Q475.4,433.0 477.2,437.4 L477.4,475.2 L473.4,474.1Z" fill="url(#tabg)"/>
<path d="M678.6,600 L678.6,650.5 A17,17 0 0 0 712.5,650.5 L712.5,639" fill="none" stroke="#8b8e92" stroke-width="5.0" stroke-linecap="round" stroke-linejoin="round"/><path d="M678.6,600 L678.6,650.5 A17,17 0 0 0 712.5,650.5 L712.5,639" fill="none" stroke="#c0c2c4" stroke-width="2.00" stroke-linecap="round" stroke-linejoin="round"/>
<circle cx="712.5" cy="633.5" r="6.5" fill="url(#ballg)"/>
<path d="M436.3,712 L436.3,655.3 L514.5,650.6 L514.5,706" fill="none" stroke="#84878b" stroke-width="4.2" stroke-linecap="round" stroke-linejoin="round"/><path d="M436.3,712 L436.3,655.3 L514.5,650.6 L514.5,706" fill="none" stroke="#d2d4d6" stroke-width="1.76" stroke-linecap="round" stroke-linejoin="round"/>
<path d="M436.3,700 Q436.8,722 442.4,723 Q446.2,722 445.2,696" fill="none" stroke="#84878b" stroke-width="3.8" stroke-linecap="round" stroke-linejoin="round"/><path d="M436.3,700 Q436.8,722 442.4,723 Q446.2,722 445.2,696" fill="none" stroke="#d2d4d6" stroke-width="1.60" stroke-linecap="round" stroke-linejoin="round"/>
<circle cx="444.7" cy="690.3" r="6.6" fill="url(#ballg)"/>
<path d="M514.5,696 Q515,718 520.2,719.2 Q524.4,718 523.6,692" fill="none" stroke="#84878b" stroke-width="3.8" stroke-linecap="round" stroke-linejoin="round"/><path d="M514.5,696 Q515,718 520.2,719.2 Q524.4,718 523.6,692" fill="none" stroke="#d2d4d6" stroke-width="1.60" stroke-linecap="round" stroke-linejoin="round"/>
<circle cx="523.3" cy="685.4" r="6.4" fill="url(#ballg)"/></g>
<g id="b3"><path d="M498.9,827.8 L694.2,828.7 L694.1,839.9 L499.0,839.0Z" fill="#acadaf" stroke="#acadaf" stroke-width="0.6"/>
<path d="M694.2,828.7 L697.9,828.4 L697.8,839.3 L694.1,839.9Z" fill="#acadaf" stroke="#acadaf" stroke-width="0.6"/>
<path d="M421.9,851.1 L421.9,849.6 L422.0,860.7 L422.0,862.5Z" fill="#d0d1d3" stroke="#d0d1d3" stroke-width="0.6"/>
<path d="M421.9,849.6 L498.9,825.7 L499.0,836.7 L422.0,860.7Z" fill="#d0d1d3" stroke="#d0d1d3" stroke-width="0.6"/>
<path d="M504.6,827.9 L551.1,828.1 L551.1,839.2 L504.6,839.0Z" fill="url(#backpanel)"/>
<path d="M551.1,828.1 L596.3,828.3 L596.2,839.4 L551.1,839.2Z" fill="url(#backpanel)"/>
<path d="M551.1,829.1 L551.1,839.2" stroke="#e6e8ea" stroke-width="1.6"/>
<path d="M596.3,828.3 L638.6,828.5 L638.5,839.6 L596.2,839.4Z" fill="url(#backpanel)"/>
<path d="M596.3,829.3 L596.2,839.4" stroke="#e6e8ea" stroke-width="1.6"/>
<path d="M638.6,828.5 L682.3,828.6 L682.2,839.8 L638.5,839.6Z" fill="url(#backpanel)"/>
<path d="M638.6,829.5 L638.5,839.6" stroke="#e6e8ea" stroke-width="1.6"/>
<path d="M682.3,828.6 L696.5,828.7 L696.3,839.9 L682.2,839.8Z" fill="url(#backpanel)"/>
<path d="M682.3,829.6 L682.2,839.8" stroke="#e6e8ea" stroke-width="1.6"/>
<path d="M498.9,827.8 L694.2,828.7 M423.9,847.6 L498.9,825.7" fill="none" stroke="#eceeef" stroke-width="1.3"/><path d="M499.0,839.0 L694.1,839.9 M424.0,858.7 L499.0,836.7" fill="none" stroke="#8e9195" stroke-width="0.8"/>
<path d="M509.4,958.6 L508.8,833.5 M551.3,958.8 L551.1,833.7 M596.0,959.0 L596.2,833.9 M637.9,959.2 L638.6,834.0 M681.2,959.4 L682.3,834.2" fill="none" stroke="#979a9e" stroke-width="3.3" stroke-linecap="round" stroke-linejoin="round"/><path d="M509.4,958.6 L508.8,833.5 M551.3,958.8 L551.1,833.7 M596.0,959.0 L596.2,833.9 M637.9,959.2 L638.6,834.0 M681.2,959.4 L682.3,834.2" fill="none" stroke="#d6d8da" stroke-width="1.39" stroke-linecap="round" stroke-linejoin="round"/>
<path d="M509.4,958.6 L509.1,960.0 L508.7,961.5 L507.9,962.9 L507.0,964.4 L505.8,965.8 L504.4,967.2 L502.8,968.5 L500.9,969.9 L498.9,971.2 L496.6,972.5 L494.1,973.7 L491.4,974.9 L488.5,976.0 L485.4,977.1 L482.2,978.2 L478.8,979.1 L475.3,980.0 L471.6,980.9 L467.7,981.7 L463.8,982.4 L459.7,983.0 L455.6,983.6 L451.1,984.4 L446.5,985.1 L441.9,985.7 L437.3,986.2 L432.6,986.7 L427.9,987.0 L423.2,987.3 M551.3,958.8 L551.0,961.0 L550.3,963.2 L549.3,965.4 L547.9,967.6 L546.2,969.7 L544.1,971.8 L541.6,973.9 L538.9,976.0 L535.7,978.0 L532.3,979.9 L528.5,981.8 L524.5,983.7 L520.1,985.4 L515.5,987.1 L510.6,988.7 L505.4,990.2 L500.0,991.6 L494.4,992.9 L488.5,994.1 L482.5,995.2 L476.3,996.2 L470.0,997.1 L463.4,998.1 L456.8,998.9 L450.0,999.7 L443.2,1000.3 L436.3,1000.8 L429.4,1001.1 L422.5,1001.4 M596.0,959.0 L595.6,962.0 L594.8,965.0 L593.5,968.0 L591.7,971.0 L589.4,974.0 L586.6,976.9 L583.4,979.7 L579.6,982.6 L575.4,985.3 L570.8,988.0 L565.7,990.6 L560.2,993.1 L554.2,995.5 L547.9,997.8 L541.2,1000.0 L534.2,1002.1 L526.8,1004.1 L519.1,1005.9 L511.1,1007.6 L502.8,1009.1 L494.3,1010.5 L485.6,1011.7 L476.8,1012.9 L467.9,1013.9 L458.8,1014.8 L449.6,1015.5 L440.4,1016.1 L431.1,1016.4 L421.8,1016.6 M637.9,959.2 L637.6,963.0 L636.7,966.7 L635.1,970.5 L632.9,974.2 L630.1,977.9 L626.8,981.6 L622.7,985.2 L618.1,988.8 L613.0,992.2 L607.2,995.6 L600.9,998.9 L594.0,1002.1 L586.6,1005.1 L578.7,1008.1 L570.3,1010.8 L561.5,1013.5 L552.2,1015.9 L542.6,1018.2 L532.5,1020.4 L522.1,1022.3 L511.4,1024.0 L500.5,1025.6 L489.5,1027.0 L478.4,1028.3 L467.1,1029.3 L455.7,1030.1 L444.2,1030.7 L432.7,1031.1 L421.1,1031.2 M681.2,959.4 L681.0,964.0 L680.0,968.5 L678.2,973.1 L675.7,977.6 L672.5,982.1 L668.5,986.5 L663.7,990.9 L658.2,995.2 L652.1,999.5 L645.2,1003.6 L637.6,1007.6 L629.3,1011.4 L620.4,1015.2 L610.9,1018.7 L600.8,1022.1 L590.1,1025.4 L578.9,1028.4 L567.2,1031.2 L555.0,1033.8 L542.4,1036.2 L529.4,1038.3 L516.1,1040.2 L503.0,1041.9 L489.5,1043.4 L475.9,1044.5 L462.1,1045.4 L448.2,1046.1 L434.3,1046.4 L420.3,1046.5 M494.0,962.4 L704.2,975.8 M491.4,965.5 L694.8,988.9 M487.1,968.6 L678.1,1002.7 M481.4,971.6 L655.2,1015.4 M474.4,974.2 L626.4,1026.9 M465.9,976.5 L590.3,1037.4 M456.0,978.4 L548.0,1046.0 M445.6,979.8 L503.2,1052.0 M434.4,980.5 L454.5,1055.4 M436.5,971.5 L443.6,970.8 L443.6,970.8 L448.6,970.8 L453.5,970.5 L458.2,970.0 L462.7,969.3 L466.9,968.4 L470.7,967.3 L474.1,966.1 L477.0,964.8 L479.4,963.3 L481.1,961.8 L482.3,960.2 L488.4,958.5 L501.0,958.5 L696.6,959.5" fill="none" stroke="#85888c" stroke-width="3.5" stroke-linecap="round" stroke-linejoin="round"/><path d="M509.4,958.6 L509.1,960.0 L508.7,961.5 L507.9,962.9 L507.0,964.4 L505.8,965.8 L504.4,967.2 L502.8,968.5 L500.9,969.9 L498.9,971.2 L496.6,972.5 L494.1,973.7 L491.4,974.9 L488.5,976.0 L485.4,977.1 L482.2,978.2 L478.8,979.1 L475.3,980.0 L471.6,980.9 L467.7,981.7 L463.8,982.4 L459.7,983.0 L455.6,983.6 L451.1,984.4 L446.5,985.1 L441.9,985.7 L437.3,986.2 L432.6,986.7 L427.9,987.0 L423.2,987.3 M551.3,958.8 L551.0,961.0 L550.3,963.2 L549.3,965.4 L547.9,967.6 L546.2,969.7 L544.1,971.8 L541.6,973.9 L538.9,976.0 L535.7,978.0 L532.3,979.9 L528.5,981.8 L524.5,983.7 L520.1,985.4 L515.5,987.1 L510.6,988.7 L505.4,990.2 L500.0,991.6 L494.4,992.9 L488.5,994.1 L482.5,995.2 L476.3,996.2 L470.0,997.1 L463.4,998.1 L456.8,998.9 L450.0,999.7 L443.2,1000.3 L436.3,1000.8 L429.4,1001.1 L422.5,1001.4 M596.0,959.0 L595.6,962.0 L594.8,965.0 L593.5,968.0 L591.7,971.0 L589.4,974.0 L586.6,976.9 L583.4,979.7 L579.6,982.6 L575.4,985.3 L570.8,988.0 L565.7,990.6 L560.2,993.1 L554.2,995.5 L547.9,997.8 L541.2,1000.0 L534.2,1002.1 L526.8,1004.1 L519.1,1005.9 L511.1,1007.6 L502.8,1009.1 L494.3,1010.5 L485.6,1011.7 L476.8,1012.9 L467.9,1013.9 L458.8,1014.8 L449.6,1015.5 L440.4,1016.1 L431.1,1016.4 L421.8,1016.6 M637.9,959.2 L637.6,963.0 L636.7,966.7 L635.1,970.5 L632.9,974.2 L630.1,977.9 L626.8,981.6 L622.7,985.2 L618.1,988.8 L613.0,992.2 L607.2,995.6 L600.9,998.9 L594.0,1002.1 L586.6,1005.1 L578.7,1008.1 L570.3,1010.8 L561.5,1013.5 L552.2,1015.9 L542.6,1018.2 L532.5,1020.4 L522.1,1022.3 L511.4,1024.0 L500.5,1025.6 L489.5,1027.0 L478.4,1028.3 L467.1,1029.3 L455.7,1030.1 L444.2,1030.7 L432.7,1031.1 L421.1,1031.2 M681.2,959.4 L681.0,964.0 L680.0,968.5 L678.2,973.1 L675.7,977.6 L672.5,982.1 L668.5,986.5 L663.7,990.9 L658.2,995.2 L652.1,999.5 L645.2,1003.6 L637.6,1007.6 L629.3,1011.4 L620.4,1015.2 L610.9,1018.7 L600.8,1022.1 L590.1,1025.4 L578.9,1028.4 L567.2,1031.2 L555.0,1033.8 L542.4,1036.2 L529.4,1038.3 L516.1,1040.2 L503.0,1041.9 L489.5,1043.4 L475.9,1044.5 L462.1,1045.4 L448.2,1046.1 L434.3,1046.4 L420.3,1046.5 M494.0,962.4 L704.2,975.8 M491.4,965.5 L694.8,988.9 M487.1,968.6 L678.1,1002.7 M481.4,971.6 L655.2,1015.4 M474.4,974.2 L626.4,1026.9 M465.9,976.5 L590.3,1037.4 M456.0,978.4 L548.0,1046.0 M445.6,979.8 L503.2,1052.0 M434.4,980.5 L454.5,1055.4 M436.5,971.5 L443.6,970.8 L443.6,970.8 L448.6,970.8 L453.5,970.5 L458.2,970.0 L462.7,969.3 L466.9,968.4 L470.7,967.3 L474.1,966.1 L477.0,964.8 L479.4,963.3 L481.1,961.8 L482.3,960.2 L488.4,958.5 L501.0,958.5 L696.6,959.5" fill="none" stroke="#b6b8ba" stroke-width="1.26" stroke-linecap="round" stroke-linejoin="round"/>
<path d="M423.2,987.3 L421.8,859.8 M422.5,1001.4 L421.2,872.9 M421.8,1016.6 L420.4,887.1 M421.1,1031.2 L419.7,900.6 M420.3,1046.5 L418.9,914.9 M704.2,975.8 L705.5,854.3 M694.8,988.9 L696.0,865.8 M678.1,1002.7 L679.2,878.4 M655.2,1015.4 L656.1,889.6 M626.4,1026.9 L627.0,900.6 M590.3,1037.4 L590.6,909.9 M548.0,1046.0 L547.8,917.7 M503.2,1052.0 L502.6,923.0 M454.5,1055.4 L453.5,925.8" fill="none" stroke="#8d9094" stroke-width="3.9" stroke-linecap="butt" stroke-linejoin="round"/><path d="M423.2,987.3 L421.8,859.8 M422.5,1001.4 L421.2,872.9 M421.8,1016.6 L420.4,887.1 M421.1,1031.2 L419.7,900.6 M420.3,1046.5 L418.9,914.9 M704.2,975.8 L705.5,854.3 M694.8,988.9 L696.0,865.8 M678.1,1002.7 L679.2,878.4 M655.2,1015.4 L656.1,889.6 M626.4,1026.9 L627.0,900.6 M590.3,1037.4 L590.6,909.9 M548.0,1046.0 L547.8,917.7 M503.2,1052.0 L502.6,923.0 M454.5,1055.4 L453.5,925.8" fill="none" stroke="#d8dadc" stroke-width="1.64" stroke-linecap="butt" stroke-linejoin="round"/>
<path d="M422.0,855.1 L418.7,915.9" fill="none" stroke="#aeb1b8" stroke-width="6.6" stroke-linecap="round"/>
<path d="M420.7,856.1 L417.4,915.9" fill="none" stroke="#f3f4f5" stroke-width="2.8" stroke-linecap="round"/>
<path d="M694.2,828.7 L697.9,828.4 L697.8,839.3 L694.1,839.9Z" fill="#a6a7a9" stroke="#a6a7a9" stroke-width="0.6"/>
<path d="M697.9,828.4 L701.3,828.3 L701.2,839.0 L697.8,839.3Z" fill="#a8a9ab" stroke="#a8a9ab" stroke-width="0.6"/>
<path d="M701.3,828.3 L704.3,828.5 L704.2,839.0 L701.2,839.0Z" fill="#adaeb0" stroke="#adaeb0" stroke-width="0.6"/>
<path d="M704.3,828.5 L706.6,828.9 L706.5,839.1 L704.2,839.0Z" fill="#b3b4b6" stroke="#b3b4b6" stroke-width="0.6"/>
<path d="M706.6,828.9 L708.0,829.5 L707.9,839.4 L706.5,839.1Z" fill="#bcbdbf" stroke="#bcbdbf" stroke-width="0.6"/>
<path d="M708.0,829.5 L708.6,830.1 L708.5,839.8 L707.9,839.4Z" fill="#c5c6c8" stroke="#c5c6c8" stroke-width="0.6"/>
<path d="M708.6,830.1 L709.3,830.0 L709.2,840.0 L708.5,839.8Z" fill="#c9cacc" stroke="#c9cacc" stroke-width="0.6"/>
<path d="M709.3,830.0 L709.5,834.1 L709.4,844.5 L709.2,840.0Z" fill="#c4c5c7" stroke="#c4c5c7" stroke-width="0.6"/>
<path d="M709.5,834.1 L708.9,838.3 L708.8,849.0 L709.4,844.5Z" fill="#c2c3c5" stroke="#c2c3c5" stroke-width="0.6"/>
<path d="M708.9,838.3 L707.5,842.5 L707.4,853.6 L708.8,849.0Z" fill="#bebfc1" stroke="#bebfc1" stroke-width="0.6"/>
<path d="M707.5,842.5 L705.3,846.8 L705.2,858.1 L707.4,853.6Z" fill="#b8b9bb" stroke="#b8b9bb" stroke-width="0.6"/>
<path d="M705.3,846.8 L702.3,851.1 L702.2,862.5 L705.2,858.1Z" fill="#b2b3b5" stroke="#b2b3b5" stroke-width="0.6"/>
<path d="M702.3,851.1 L698.6,855.4 L698.4,867.0 L702.2,862.5Z" fill="#a9aaac" stroke="#a9aaac" stroke-width="0.6"/>
<path d="M698.6,855.4 L694.0,859.6 L693.9,871.3 L698.4,867.0Z" fill="#a0a1a3" stroke="#a0a1a3" stroke-width="0.6"/>
<path d="M694.0,859.6 L688.6,863.7 L688.5,875.6 L693.9,871.3Z" fill="#919294" stroke="#919294" stroke-width="0.6"/>
<path d="M688.6,863.7 L682.5,867.8 L682.4,879.9 L688.5,875.6Z" fill="#7f8082" stroke="#7f8082" stroke-width="0.6"/>
<path d="M682.5,867.8 L680.8,868.8 L680.7,880.9 L682.4,879.9Z" fill="#6d6e70" stroke="#6d6e70" stroke-width="0.6"/>
<path d="M680.8,868.8 L679.9,869.4 L679.8,881.5 L680.7,880.9Z" fill="#68696b" stroke="#68696b" stroke-width="0.6"/>
<path d="M679.9,869.4 L678.9,869.9 L678.8,882.1 L679.8,881.5Z" fill="#646567" stroke="#646567" stroke-width="0.6"/>
<path d="M678.9,869.9 L677.9,870.5 L677.8,882.7 L678.8,882.1Z" fill="#5f6062" stroke="#5f6062" stroke-width="0.6"/>
<path d="M677.9,870.5 L676.9,871.1 L676.8,883.2 L677.8,882.7Z" fill="#595a5c" stroke="#595a5c" stroke-width="0.6"/>
<path d="M676.9,871.1 L675.9,871.6 L675.8,883.8 L676.8,883.2Z" fill="#535456" stroke="#535456" stroke-width="0.6"/>
<path d="M675.9,871.6 L674.9,872.2 L674.8,884.4 L675.8,883.8Z" fill="#4c4d4f" stroke="#4c4d4f" stroke-width="0.6"/>
<path d="M674.9,872.2 L673.9,872.8 L673.8,884.9 L674.8,884.4Z" fill="#464749" stroke="#464749" stroke-width="0.6"/>
<path d="M673.9,872.8 L672.8,873.3 L672.7,885.5 L673.8,884.9Z" fill="#404143" stroke="#404143" stroke-width="0.6"/>
<path d="M672.8,873.3 L671.7,873.9 L671.6,886.1 L672.7,885.5Z" fill="#08090b" stroke="#08090b" stroke-width="0.6"/>
<path d="M671.7,873.9 L670.6,874.4 L670.5,886.6 L671.6,886.1Z" fill="#08090b" stroke="#08090b" stroke-width="0.6"/>
<path d="M670.6,874.4 L669.5,875.0 L669.4,887.2 L670.5,886.6Z" fill="#08090b" stroke="#08090b" stroke-width="0.6"/>
<path d="M669.5,875.0 L668.4,875.5 L668.3,887.7 L669.4,887.2Z" fill="#08090b" stroke="#08090b" stroke-width="0.6"/>
<path d="M668.4,875.5 L667.3,876.1 L667.2,888.3 L668.3,887.7Z" fill="#212224" stroke="#212224" stroke-width="0.6"/>
<path d="M667.3,876.1 L666.1,876.6 L666.1,888.8 L667.2,888.3Z" fill="#8a8b8d" stroke="#8a8b8d" stroke-width="0.6"/>
<path d="M666.1,876.6 L665.0,877.2 L664.9,889.4 L666.1,888.8Z" fill="#909193" stroke="#909193" stroke-width="0.6"/>
<path d="M665.0,877.2 L663.8,877.7 L663.7,889.9 L664.9,889.4Z" fill="#959698" stroke="#959698" stroke-width="0.6"/>
<path d="M663.8,877.7 L659.6,879.7 L659.5,891.9 L663.7,889.9Z" fill="#a0a1a3" stroke="#a0a1a3" stroke-width="0.6"/>
<path d="M659.6,879.7 L652.0,882.9 L651.9,895.2 L659.5,891.9Z" fill="#b0b1b3" stroke="#b0b1b3" stroke-width="0.6"/>
<path d="M652.0,882.9 L643.9,886.1 L643.8,898.3 L651.9,895.2Z" fill="#b9babc" stroke="#b9babc" stroke-width="0.6"/>
<path d="M643.9,886.1 L635.3,889.1 L635.3,901.4 L643.8,898.3Z" fill="#bdbec0" stroke="#bdbec0" stroke-width="0.6"/>
<path d="M635.3,889.1 L626.3,892.0 L626.2,904.3 L635.3,901.4Z" fill="#c2c3c5" stroke="#c2c3c5" stroke-width="0.6"/>
<path d="M626.3,892.0 L616.9,894.8 L616.8,907.1 L626.2,904.3Z" fill="#d2d3d5" stroke="#d2d3d5" stroke-width="0.6"/>
<path d="M616.9,894.8 L607.0,897.5 L607.0,909.8 L616.8,907.1Z" fill="#e1e2e4" stroke="#e1e2e4" stroke-width="0.6"/>
<path d="M607.0,897.5 L596.8,900.0 L596.7,912.3 L607.0,909.8Z" fill="#edeef0" stroke="#edeef0" stroke-width="0.6"/>
<path d="M596.8,900.0 L586.2,902.3 L586.2,914.7 L596.7,912.3Z" fill="#f0f1f3" stroke="#f0f1f3" stroke-width="0.6"/>
<path d="M586.2,902.3 L575.2,904.5 L575.2,916.9 L586.2,914.7Z" fill="#f0f1f3" stroke="#f0f1f3" stroke-width="0.6"/>
<path d="M575.2,904.5 L564.0,906.6 L564.0,919.0 L575.2,916.9Z" fill="#f0f1f3" stroke="#f0f1f3" stroke-width="0.6"/>
<path d="M564.0,906.6 L552.5,908.5 L552.5,920.8 L564.0,919.0Z" fill="#ecedef" stroke="#ecedef" stroke-width="0.6"/>
<path d="M552.5,908.5 L540.8,910.2 L540.8,922.5 L552.5,920.8Z" fill="#e8e9eb" stroke="#e8e9eb" stroke-width="0.6"/>
<path d="M540.8,910.2 L528.8,911.8 L528.8,924.1 L540.8,922.5Z" fill="#e4e5e7" stroke="#e4e5e7" stroke-width="0.6"/>
<path d="M528.8,911.8 L516.6,913.1 L516.7,925.4 L528.8,924.1Z" fill="#e1e2e4" stroke="#e1e2e4" stroke-width="0.6"/>
<path d="M516.6,913.1 L504.3,914.3 L504.4,926.6 L516.7,925.4Z" fill="#dfe0e2" stroke="#dfe0e2" stroke-width="0.6"/>
<path d="M504.3,914.3 L491.9,915.3 L492.0,927.6 L504.4,926.6Z" fill="#dddee0" stroke="#dddee0" stroke-width="0.6"/>
<path d="M491.9,915.3 L479.4,916.2 L479.5,928.4 L492.0,927.6Z" fill="#dbdcde" stroke="#dbdcde" stroke-width="0.6"/>
<path d="M479.4,916.2 L466.9,916.8 L467.0,929.0 L479.5,928.4Z" fill="#dadbdd" stroke="#dadbdd" stroke-width="0.6"/>
<path d="M466.9,916.8 L454.3,917.3 L454.4,929.4 L467.0,929.0Z" fill="#d9dadc" stroke="#d9dadc" stroke-width="0.6"/>
<path d="M454.3,917.3 L441.8,917.6 L441.9,929.6 L454.4,929.4Z" fill="#d8d9db" stroke="#d8d9db" stroke-width="0.6"/>
<path d="M441.8,917.6 L429.2,917.7 L429.4,929.7 L441.9,929.6Z" fill="#d7d8da" stroke="#d7d8da" stroke-width="0.6"/>
<path d="M430.4,917.7 L426.7,917.4 L426.8,929.3 L430.5,929.7Z" fill="#dedfe1" stroke="#dedfe1" stroke-width="0.6"/>
<path d="M426.7,917.4 L423.4,916.7 L423.6,928.6 L426.8,929.3Z" fill="#e1e2e4" stroke="#e1e2e4" stroke-width="0.6"/>
<path d="M423.4,916.7 L420.9,915.6 L421.0,927.5 L423.6,928.6Z" fill="#e4e5e7" stroke="#e4e5e7" stroke-width="0.6"/>
<path d="M420.9,915.6 L419.4,914.3 L419.5,926.1 L421.0,927.5Z" fill="#e6e7e9" stroke="#e6e7e9" stroke-width="0.6"/>
<path d="M419.4,914.3 L419.0,912.8 L419.1,924.6 L419.5,926.1Z" fill="#e8e9eb" stroke="#e8e9eb" stroke-width="0.6"/>
<path d="M419.0,912.8 L427.9,849.1 L428.0,860.5 L419.1,924.6Z" fill="#e8e9eb" stroke="#e8e9eb" stroke-width="0.6"/>
<path d="M697.9,828.4 L701.3,828.3 L704.3,828.5 L706.6,828.9 L708.0,829.5 L708.6,830.1 L709.3,830.0 L709.5,834.1 L708.9,838.3 L707.5,842.5 L705.3,846.8 L702.3,851.1 L698.6,855.4 L694.0,859.6 L688.6,863.7 L682.5,867.8 L680.8,868.8 L679.9,869.4 L678.9,869.9 L677.9,870.5 L676.9,871.1 L675.9,871.6 L674.9,872.2 L673.9,872.8 L672.8,873.3 L671.7,873.9 L670.6,874.4 L669.5,875.0 L668.4,875.5 L667.3,876.1 L666.1,876.6 L665.0,877.2 L663.8,877.7 L659.6,879.7 L652.0,882.9 L643.9,886.1 L635.3,889.1 L626.3,892.0 L616.9,894.8 L607.0,897.5 L596.8,900.0 L586.2,902.3 L575.2,904.5 L564.0,906.6 L552.5,908.5 L540.8,910.2 L528.8,911.8 L516.6,913.1 L504.3,914.3 L491.9,915.3 L479.4,916.2 L466.9,916.8 L454.3,917.3 L441.8,917.6 L430.4,917.7 L426.7,917.4 L423.4,916.7 L420.9,915.6 L419.4,914.3 L419.0,912.8" fill="none" stroke="#85888c" stroke-width="1.0"/><path d="M697.8,839.3 L701.2,839.0 L704.2,839.0 L706.5,839.1 L707.9,839.4 L708.5,839.8 L709.2,840.0 L709.4,844.5 L708.8,849.0 L707.4,853.6 L705.2,858.1 L702.2,862.5 L698.4,867.0 L693.9,871.3 L688.5,875.6 L682.4,879.9 L680.7,880.9 L679.8,881.5 L678.8,882.1 L677.8,882.7 L676.8,883.2 L675.8,883.8 L674.8,884.4 L673.8,884.9 L672.7,885.5 L671.6,886.1 L670.5,886.6 L669.4,887.2 L668.3,887.7 L667.2,888.3 L666.1,888.8 L664.9,889.4 L663.7,889.9 L659.5,891.9 L651.9,895.2 L643.8,898.3 L635.3,901.4 L626.2,904.3 L616.8,907.1 L607.0,909.8 L596.7,912.3 L586.2,914.7 L575.2,916.9 L564.0,919.0 L552.5,920.8 L540.8,922.5 L528.8,924.1 L516.7,925.4 L504.4,926.6 L492.0,927.6 L479.5,928.4 L467.0,929.0 L454.4,929.4 L441.9,929.6 L430.5,929.7 L426.8,929.3 L423.6,928.6 L421.0,927.5 L419.5,926.1 L419.1,924.6" fill="none" stroke="#f4f5f6" stroke-width="1.3"/>
<path d="M440.0,834.1 Q455.1,836.7 473.6,830.1 L473.6,862.5 L464.2,866.4 Q453.4,869.6 440.0,865.8Z" fill="url(#clipg)"/>
<path d="M473.2,828.5 Q473.6,825.0 470.8,824.1 Q475.4,822.1 477.2,826.5 L477.4,863.4 L473.4,862.3Z" fill="url(#tabg)"/>
<path d="M684.1,965.4 L729.0,965.6 L735.5,966.4 L737.6,968.4 L734.4,971.7 L732.8,975.2 L730.8,978.6 L728.4,982.0 L725.7,985.4 L722.7,988.8 L719.3,992.1 L715.5,995.4 L711.9,998.7 L708.0,1002.0 L703.7,1005.2 L699.1,1008.5 L694.2,1011.6 L688.9,1014.7 L683.3,1017.8 L677.3,1020.8 L671.1,1023.7 L664.5,1026.6 L657.6,1029.4 L650.4,1032.1 L643.0,1034.7 L635.2,1037.3 L627.2,1039.8 L618.9,1042.2 L610.3,1044.4 L601.6,1046.6 L592.5,1048.7 L583.3,1050.7 L573.8,1052.6 L564.2,1054.4 L554.4,1056.0 L544.3,1057.6 L534.2,1059.0 L523.9,1060.3 L513.4,1061.5 L502.9,1062.5 L492.2,1063.4 L481.4,1064.2 L470.6,1064.9 L459.7,1065.5 L444.6,1064.7 L436.0,1062.8 L432.2,1059.6 L431.5,1055.5 L431.5,1045.7" fill="none" stroke="#7e8185" stroke-width="4.8" stroke-linecap="round" stroke-linejoin="round"/><path d="M684.1,965.4 L729.0,965.6 L735.5,966.4 L737.6,968.4 L734.4,971.7 L732.8,975.2 L730.8,978.6 L728.4,982.0 L725.7,985.4 L722.7,988.8 L719.3,992.1 L715.5,995.4 L711.9,998.7 L708.0,1002.0 L703.7,1005.2 L699.1,1008.5 L694.2,1011.6 L688.9,1014.7 L683.3,1017.8 L677.3,1020.8 L671.1,1023.7 L664.5,1026.6 L657.6,1029.4 L650.4,1032.1 L643.0,1034.7 L635.2,1037.3 L627.2,1039.8 L618.9,1042.2 L610.3,1044.4 L601.6,1046.6 L592.5,1048.7 L583.3,1050.7 L573.8,1052.6 L564.2,1054.4 L554.4,1056.0 L544.3,1057.6 L534.2,1059.0 L523.9,1060.3 L513.4,1061.5 L502.9,1062.5 L492.2,1063.4 L481.4,1064.2 L470.6,1064.9 L459.7,1065.5 L444.6,1064.7 L436.0,1062.8 L432.2,1059.6 L431.5,1055.5 L431.5,1045.7" fill="none" stroke="#dcdee0" stroke-width="1.73" stroke-linecap="round" stroke-linejoin="round"/></g>
<g id="b4"><path d="M908.0,765.1 L1121.1,762.0 L1121.0,774.0 L908.0,777.1Z" fill="#acadaf" stroke="#acadaf" stroke-width="0.6"/>
<path d="M1121.1,762.0 L1125.1,761.9 L1125.0,773.7 L1121.0,774.0Z" fill="#acadaf" stroke="#acadaf" stroke-width="0.6"/>
<path d="M832.1,778.4 L832.1,780.2 L832.2,792.7 L832.2,791.2Z" fill="#d0d1d3" stroke="#d0d1d3" stroke-width="0.6"/>
<path d="M832.1,780.2 L908.0,762.7 L908.0,775.0 L832.2,792.7Z" fill="#d0d1d3" stroke="#d0d1d3" stroke-width="0.6"/>
<path d="M914.1,765.0 L965.0,764.3 L965.0,776.3 L914.2,777.0Z" fill="url(#backpanel)"/>
<path d="M965.0,764.3 L1014.3,763.5 L1014.3,775.5 L965.0,776.3Z" fill="url(#backpanel)"/>
<path d="M965.0,765.3 L965.0,776.3" stroke="#e6e8ea" stroke-width="1.6"/>
<path d="M1014.3,763.5 L1060.5,762.9 L1060.4,774.9 L1014.3,775.5Z" fill="url(#backpanel)"/>
<path d="M1014.3,764.5 L1014.3,775.5" stroke="#e6e8ea" stroke-width="1.6"/>
<path d="M1060.5,762.9 L1108.1,762.2 L1108.0,774.2 L1060.4,774.9Z" fill="url(#backpanel)"/>
<path d="M1060.5,763.9 L1060.4,774.9" stroke="#e6e8ea" stroke-width="1.6"/>
<path d="M1108.1,762.2 L1123.5,762.0 L1123.4,773.9 L1108.0,774.2Z" fill="url(#backpanel)"/>
<path d="M1108.1,763.2 L1108.0,774.2" stroke="#e6e8ea" stroke-width="1.6"/>
<path d="M908.0,765.1 L1121.1,762.0 M829.6,782.2 L905.5,762.7" fill="none" stroke="#eceeef" stroke-width="1.3"/><path d="M908.0,777.1 L1121.0,774.0 M829.7,794.7 L905.5,775.0" fill="none" stroke="#8e9195" stroke-width="0.8"/>
<path d="M919.2,908.0 L918.8,770.9 M965.2,907.3 L965.0,770.3 M1014.2,906.5 L1014.3,769.5 M1060.0,905.8 L1060.4,768.9 M1107.4,905.0 L1108.1,768.2" fill="none" stroke="#979a9e" stroke-width="3.3" stroke-linecap="round" stroke-linejoin="round"/><path d="M919.2,908.0 L918.8,770.9 M965.2,907.3 L965.0,770.3 M1014.2,906.5 L1014.3,769.5 M1060.0,905.8 L1060.4,768.9 M1107.4,905.0 L1108.1,768.2" fill="none" stroke="#d6d8da" stroke-width="1.39" stroke-linecap="round" stroke-linejoin="round"/>
<path d="M919.2,908.0 L919.0,909.2 L918.5,910.5 L917.7,911.7 L916.7,912.9 L915.4,914.1 L913.9,915.3 L912.1,916.5 L910.4,917.7 L908.4,918.8 L906.3,919.9 L903.8,921.0 L901.2,922.1 L898.3,923.1 L895.3,924.1 L892.0,925.0 L888.5,925.9 L884.9,926.8 L881.0,927.6 L877.0,928.3 L872.9,929.0 L868.6,929.6 L864.2,930.2 L860.1,930.4 L855.8,930.6 L851.5,930.6 L847.1,930.7 L842.7,930.6 L838.2,930.5 L833.7,930.3 M965.2,907.3 L965.1,909.1 L964.5,911.0 L963.6,912.9 L962.3,914.7 L960.6,916.6 L958.5,918.4 L956.0,920.2 L953.5,922.0 L950.6,923.7 L947.3,925.4 L943.7,927.1 L939.7,928.7 L935.4,930.3 L930.7,931.8 L925.7,933.2 L920.5,934.6 L914.9,935.9 L909.1,937.1 L903.0,938.2 L896.7,939.3 L890.2,940.3 L883.4,941.1 L877.0,941.6 L870.5,942.0 L863.8,942.2 L857.0,942.4 L850.1,942.5 L843.1,942.4 L836.1,942.3 M1014.2,906.5 L1014.2,909.0 L1013.7,911.6 L1012.7,914.1 L1011.1,916.6 L1008.9,919.2 L1006.3,921.7 L1003.1,924.1 L999.7,926.6 L995.8,929.0 L991.4,931.3 L986.5,933.6 L981.1,935.8 L975.2,938.0 L968.9,940.1 L962.1,942.0 L954.9,943.9 L947.3,945.7 L939.4,947.4 L931.1,949.0 L922.4,950.4 L913.5,951.8 L904.3,953.0 L895.4,953.7 L886.3,954.3 L877.1,954.8 L867.6,955.1 L858.1,955.3 L848.5,955.3 L838.8,955.2 M1060.0,905.8 L1060.3,908.9 L1059.8,912.1 L1058.7,915.3 L1056.9,918.5 L1054.4,921.6 L1051.2,924.8 L1047.4,927.9 L1043.3,930.9 L1038.5,933.9 L1033.0,936.9 L1026.9,939.8 L1020.2,942.6 L1012.9,945.3 L1005.0,947.9 L996.6,950.4 L987.6,952.8 L978.1,955.1 L968.1,957.2 L957.7,959.2 L946.9,961.0 L935.7,962.7 L924.1,964.3 L912.9,965.3 L901.4,966.1 L889.7,966.7 L877.8,967.2 L865.7,967.5 L853.5,967.6 L841.3,967.5 M1107.4,905.0 L1107.9,908.8 L1107.5,912.6 L1106.3,916.5 L1104.4,920.3 L1101.5,924.2 L1097.9,928.0 L1093.5,931.7 L1088.6,935.4 L1082.9,939.1 L1076.4,942.7 L1069.1,946.2 L1061.0,949.6 L1052.3,952.9 L1042.8,956.1 L1032.6,959.1 L1021.8,962.1 L1010.3,964.8 L998.3,967.4 L985.6,969.9 L972.5,972.1 L958.9,974.2 L944.9,976.1 L931.2,977.4 L917.2,978.4 L902.9,979.3 L888.4,979.9 L873.7,980.3 L858.8,980.5 L843.9,980.5 M900.9,911.5 L1133.9,918.2 M898.8,914.2 L1126.8,929.4 M894.9,916.9 L1112.0,941.2 M889.4,919.5 L1090.2,952.3 M882.5,921.9 L1061.7,962.5 M873.7,924.0 L1025.0,972.1 M863.3,925.8 L981.0,980.2 M852.3,927.2 L933.7,986.1 M840.2,928.1 L881.6,990.1 M840.2,920.4 L847.8,919.7 L847.8,919.7 L853.2,919.6 L858.5,919.2 L863.6,918.7 L868.3,918.0 L872.7,917.2 L876.6,916.2 L880.0,915.1 L882.9,913.9 L885.1,912.6 L886.6,911.3 L887.5,910.0 L893.7,908.4 L907.5,908.2 L1121.7,904.7" fill="none" stroke="#85888c" stroke-width="3.5" stroke-linecap="round" stroke-linejoin="round"/><path d="M919.2,908.0 L919.0,909.2 L918.5,910.5 L917.7,911.7 L916.7,912.9 L915.4,914.1 L913.9,915.3 L912.1,916.5 L910.4,917.7 L908.4,918.8 L906.3,919.9 L903.8,921.0 L901.2,922.1 L898.3,923.1 L895.3,924.1 L892.0,925.0 L888.5,925.9 L884.9,926.8 L881.0,927.6 L877.0,928.3 L872.9,929.0 L868.6,929.6 L864.2,930.2 L860.1,930.4 L855.8,930.6 L851.5,930.6 L847.1,930.7 L842.7,930.6 L838.2,930.5 L833.7,930.3 M965.2,907.3 L965.1,909.1 L964.5,911.0 L963.6,912.9 L962.3,914.7 L960.6,916.6 L958.5,918.4 L956.0,920.2 L953.5,922.0 L950.6,923.7 L947.3,925.4 L943.7,927.1 L939.7,928.7 L935.4,930.3 L930.7,931.8 L925.7,933.2 L920.5,934.6 L914.9,935.9 L909.1,937.1 L903.0,938.2 L896.7,939.3 L890.2,940.3 L883.4,941.1 L877.0,941.6 L870.5,942.0 L863.8,942.2 L857.0,942.4 L850.1,942.5 L843.1,942.4 L836.1,942.3 M1014.2,906.5 L1014.2,909.0 L1013.7,911.6 L1012.7,914.1 L1011.1,916.6 L1008.9,919.2 L1006.3,921.7 L1003.1,924.1 L999.7,926.6 L995.8,929.0 L991.4,931.3 L986.5,933.6 L981.1,935.8 L975.2,938.0 L968.9,940.1 L962.1,942.0 L954.9,943.9 L947.3,945.7 L939.4,947.4 L931.1,949.0 L922.4,950.4 L913.5,951.8 L904.3,953.0 L895.4,953.7 L886.3,954.3 L877.1,954.8 L867.6,955.1 L858.1,955.3 L848.5,955.3 L838.8,955.2 M1060.0,905.8 L1060.3,908.9 L1059.8,912.1 L1058.7,915.3 L1056.9,918.5 L1054.4,921.6 L1051.2,924.8 L1047.4,927.9 L1043.3,930.9 L1038.5,933.9 L1033.0,936.9 L1026.9,939.8 L1020.2,942.6 L1012.9,945.3 L1005.0,947.9 L996.6,950.4 L987.6,952.8 L978.1,955.1 L968.1,957.2 L957.7,959.2 L946.9,961.0 L935.7,962.7 L924.1,964.3 L912.9,965.3 L901.4,966.1 L889.7,966.7 L877.8,967.2 L865.7,967.5 L853.5,967.6 L841.3,967.5 M1107.4,905.0 L1107.9,908.8 L1107.5,912.6 L1106.3,916.5 L1104.4,920.3 L1101.5,924.2 L1097.9,928.0 L1093.5,931.7 L1088.6,935.4 L1082.9,939.1 L1076.4,942.7 L1069.1,946.2 L1061.0,949.6 L1052.3,952.9 L1042.8,956.1 L1032.6,959.1 L1021.8,962.1 L1010.3,964.8 L998.3,967.4 L985.6,969.9 L972.5,972.1 L958.9,974.2 L944.9,976.1 L931.2,977.4 L917.2,978.4 L902.9,979.3 L888.4,979.9 L873.7,980.3 L858.8,980.5 L843.9,980.5 M900.9,911.5 L1133.9,918.2 M898.8,914.2 L1126.8,929.4 M894.9,916.9 L1112.0,941.2 M889.4,919.5 L1090.2,952.3 M882.5,921.9 L1061.7,962.5 M873.7,924.0 L1025.0,972.1 M863.3,925.8 L981.0,980.2 M852.3,927.2 L933.7,986.1 M840.2,928.1 L881.6,990.1 M840.2,920.4 L847.8,919.7 L847.8,919.7 L853.2,919.6 L858.5,919.2 L863.6,918.7 L868.3,918.0 L872.7,917.2 L876.6,916.2 L880.0,915.1 L882.9,913.9 L885.1,912.6 L886.6,911.3 L887.5,910.0 L893.7,908.4 L907.5,908.2 L1121.7,904.7" fill="none" stroke="#b6b8ba" stroke-width="1.26" stroke-linecap="round" stroke-linejoin="round"/>
<path d="M833.7,930.3 L832.7,787.3 M836.1,942.3 L835.1,798.2 M838.8,955.2 L837.8,810.1 M841.3,967.5 L840.3,821.3 M843.9,980.5 L842.9,833.1 M1133.9,918.2 L1134.7,769.8 M1126.8,929.4 L1127.6,797.6 M1112.0,941.2 L1112.7,807.6 M1090.2,952.3 L1090.8,816.9 M1061.7,962.5 L1062.1,825.1 M1025.0,972.1 L1025.2,833.0 M981.0,980.2 L981.0,839.3 M933.7,986.1 L933.4,843.4 M881.6,990.1 L880.9,845.7" fill="none" stroke="#8d9094" stroke-width="3.9" stroke-linecap="butt" stroke-linejoin="round"/><path d="M833.7,930.3 L832.7,787.3 M836.1,942.3 L835.1,798.2 M838.8,955.2 L837.8,810.1 M841.3,967.5 L840.3,821.3 M843.9,980.5 L842.9,833.1 M1133.9,918.2 L1134.7,769.8 M1126.8,929.4 L1127.6,797.6 M1112.0,941.2 L1112.7,807.6 M1090.2,952.3 L1090.8,816.9 M1061.7,962.5 L1062.1,825.1 M1025.0,972.1 L1025.2,833.0 M981.0,980.2 L981.0,839.3 M933.7,986.1 L933.4,843.4 M881.6,990.1 L880.9,845.7" fill="none" stroke="#d8dadc" stroke-width="1.64" stroke-linecap="butt" stroke-linejoin="round"/>
<path d="M832.1,782.9 L843.4,833.5" fill="none" stroke="#aeb1b8" stroke-width="6.6" stroke-linecap="round"/>
<path d="M830.8,783.9 L842.1,833.5" fill="none" stroke="#f3f4f5" stroke-width="2.8" stroke-linecap="round"/>
<path d="M1121.1,762.0 L1125.0,761.9 L1124.9,773.7 L1121.0,774.0Z" fill="#a6a7a9" stroke="#a6a7a9" stroke-width="0.6"/>
<path d="M1125.0,761.9 L1128.6,762.1 L1128.5,773.7 L1124.9,773.7Z" fill="#a8a9ab" stroke="#a8a9ab" stroke-width="0.6"/>
<path d="M1128.6,762.1 L1131.6,762.5 L1131.5,773.9 L1128.5,773.7Z" fill="#adaeb0" stroke="#adaeb0" stroke-width="0.6"/>
<path d="M1131.6,762.5 L1133.8,763.1 L1133.7,774.3 L1131.5,773.9Z" fill="#b3b4b6" stroke="#b3b4b6" stroke-width="0.6"/>
<path d="M1133.8,763.1 L1135.0,763.8 L1135.0,774.8 L1133.7,774.3Z" fill="#bcbdbf" stroke="#bcbdbf" stroke-width="0.6"/>
<path d="M1135.0,763.8 L1135.3,764.6 L1135.2,775.4 L1135.0,774.8Z" fill="#c5c6c8" stroke="#c5c6c8" stroke-width="0.6"/>
<path d="M1135.3,764.6 L1136.1,764.4 L1136.0,775.5 L1135.2,775.4Z" fill="#c9cacc" stroke="#c9cacc" stroke-width="0.6"/>
<path d="M1136.1,764.4 L1137.4,767.7 L1137.3,779.3 L1136.0,775.5Z" fill="#c4c5c7" stroke="#c4c5c7" stroke-width="0.6"/>
<path d="M1137.4,767.7 L1137.8,771.2 L1137.8,783.1 L1137.3,779.3Z" fill="#c3c4c6" stroke="#c3c4c6" stroke-width="0.6"/>
<path d="M1137.8,771.2 L1137.5,774.6 L1137.4,786.9 L1137.8,783.1Z" fill="#c0c1c3" stroke="#c0c1c3" stroke-width="0.6"/>
<path d="M1137.5,774.6 L1136.2,778.1 L1136.2,790.7 L1137.4,786.9Z" fill="#bbbcbe" stroke="#bbbcbe" stroke-width="0.6"/>
<path d="M1136.2,778.1 L1134.2,781.7 L1134.1,794.4 L1136.2,790.7Z" fill="#b5b6b8" stroke="#b5b6b8" stroke-width="0.6"/>
<path d="M1134.2,781.7 L1131.2,785.3 L1131.1,798.2 L1134.1,794.4Z" fill="#adaeb0" stroke="#adaeb0" stroke-width="0.6"/>
<path d="M1131.2,785.3 L1127.4,788.8 L1127.3,801.9 L1131.1,798.2Z" fill="#a4a5a7" stroke="#a4a5a7" stroke-width="0.6"/>
<path d="M1127.4,788.8 L1122.7,792.3 L1122.6,805.5 L1127.3,801.9Z" fill="#98999b" stroke="#98999b" stroke-width="0.6"/>
<path d="M1122.7,792.3 L1117.1,795.7 L1117.0,809.2 L1122.6,805.5Z" fill="#87888a" stroke="#87888a" stroke-width="0.6"/>
<path d="M1117.1,795.7 L1115.6,796.6 L1115.5,810.0 L1117.0,809.2Z" fill="#797a7c" stroke="#797a7c" stroke-width="0.6"/>
<path d="M1115.6,796.6 L1114.7,797.0 L1114.6,810.5 L1115.5,810.0Z" fill="#747577" stroke="#747577" stroke-width="0.6"/>
<path d="M1114.7,797.0 L1113.8,797.5 L1113.7,811.0 L1114.6,810.5Z" fill="#707173" stroke="#707173" stroke-width="0.6"/>
<path d="M1113.8,797.5 L1112.9,798.0 L1112.8,811.5 L1113.7,811.0Z" fill="#6c6d6f" stroke="#6c6d6f" stroke-width="0.6"/>
<path d="M1112.9,798.0 L1111.9,798.5 L1111.9,812.0 L1112.8,811.5Z" fill="#68696b" stroke="#68696b" stroke-width="0.6"/>
<path d="M1111.9,798.5 L1111.0,799.0 L1110.9,812.5 L1111.9,812.0Z" fill="#646567" stroke="#646567" stroke-width="0.6"/>
<path d="M1111.0,799.0 L1110.0,799.4 L1110.0,813.0 L1110.9,812.5Z" fill="#5f6062" stroke="#5f6062" stroke-width="0.6"/>
<path d="M1110.0,799.4 L1109.0,799.9 L1109.0,813.5 L1110.0,813.0Z" fill="#595a5c" stroke="#595a5c" stroke-width="0.6"/>
<path d="M1109.0,799.9 L1108.0,800.4 L1108.0,814.0 L1109.0,813.5Z" fill="#535456" stroke="#535456" stroke-width="0.6"/>
<path d="M1108.0,800.4 L1107.0,800.9 L1107.0,814.4 L1108.0,814.0Z" fill="#4c4d4f" stroke="#4c4d4f" stroke-width="0.6"/>
<path d="M1107.0,800.9 L1106.0,801.4 L1105.9,814.9 L1107.0,814.4Z" fill="#464749" stroke="#464749" stroke-width="0.6"/>
<path d="M1106.0,801.4 L1104.9,801.8 L1104.9,815.4 L1105.9,814.9Z" fill="#404143" stroke="#404143" stroke-width="0.6"/>
<path d="M1104.9,801.8 L1103.9,802.3 L1103.8,815.9 L1104.9,815.4Z" fill="#08090b" stroke="#08090b" stroke-width="0.6"/>
<path d="M1103.9,802.3 L1102.8,802.8 L1102.7,816.3 L1103.8,815.9Z" fill="#08090b" stroke="#08090b" stroke-width="0.6"/>
<path d="M1102.8,802.8 L1101.7,803.2 L1101.6,816.8 L1102.7,816.3Z" fill="#08090b" stroke="#08090b" stroke-width="0.6"/>
<path d="M1101.7,803.2 L1100.6,803.7 L1100.5,817.3 L1101.6,816.8Z" fill="#08090b" stroke="#08090b" stroke-width="0.6"/>
<path d="M1100.6,803.7 L1099.4,804.1 L1099.4,817.7 L1100.5,817.3Z" fill="#212224" stroke="#212224" stroke-width="0.6"/>
<path d="M1099.4,804.1 L1095.4,805.7 L1095.3,819.3 L1099.4,817.7Z" fill="#919294" stroke="#919294" stroke-width="0.6"/>
<path d="M1095.4,805.7 L1087.9,808.3 L1087.9,821.9 L1095.3,819.3Z" fill="#a6a7a9" stroke="#a6a7a9" stroke-width="0.6"/>
<path d="M1087.9,808.3 L1080.0,810.8 L1079.9,824.4 L1087.9,821.9Z" fill="#b7b8ba" stroke="#b7b8ba" stroke-width="0.6"/>
<path d="M1080.0,810.8 L1071.5,813.2 L1071.4,826.9 L1079.9,824.4Z" fill="#bbbcbe" stroke="#bbbcbe" stroke-width="0.6"/>
<path d="M1071.5,813.2 L1062.4,815.5 L1062.4,829.2 L1071.4,826.9Z" fill="#bfc0c2" stroke="#bfc0c2" stroke-width="0.6"/>
<path d="M1062.4,815.5 L1052.9,817.8 L1052.9,831.5 L1062.4,829.2Z" fill="#cacbcd" stroke="#cacbcd" stroke-width="0.6"/>
<path d="M1052.9,817.8 L1042.9,819.9 L1042.9,833.7 L1052.9,831.5Z" fill="#d9dadc" stroke="#d9dadc" stroke-width="0.6"/>
<path d="M1042.9,819.9 L1032.4,821.9 L1032.4,835.7 L1042.9,833.7Z" fill="#e7e8ea" stroke="#e7e8ea" stroke-width="0.6"/>
<path d="M1032.4,821.9 L1021.5,823.9 L1021.5,837.6 L1032.4,835.7Z" fill="#f0f1f3" stroke="#f0f1f3" stroke-width="0.6"/>
<path d="M1021.5,823.9 L1010.3,825.6 L1010.2,839.4 L1021.5,837.6Z" fill="#f0f1f3" stroke="#f0f1f3" stroke-width="0.6"/>
<path d="M1010.3,825.6 L998.6,827.3 L998.6,841.1 L1010.2,839.4Z" fill="#f0f1f3" stroke="#f0f1f3" stroke-width="0.6"/>
<path d="M998.6,827.3 L986.6,828.9 L986.6,842.6 L998.6,841.1Z" fill="#eeeff1" stroke="#eeeff1" stroke-width="0.6"/>
<path d="M986.6,828.9 L974.3,830.3 L974.3,844.0 L986.6,842.6Z" fill="#eaebed" stroke="#eaebed" stroke-width="0.6"/>
<path d="M974.3,830.3 L961.7,831.6 L961.7,845.3 L974.3,844.0Z" fill="#e6e7e9" stroke="#e6e7e9" stroke-width="0.6"/>
<path d="M961.7,831.6 L948.8,832.7 L948.8,846.4 L961.7,845.3Z" fill="#e2e3e5" stroke="#e2e3e5" stroke-width="0.6"/>
<path d="M948.8,832.7 L935.7,833.7 L935.8,847.4 L948.8,846.4Z" fill="#e0e1e3" stroke="#e0e1e3" stroke-width="0.6"/>
<path d="M935.7,833.7 L922.5,834.6 L922.5,848.2 L935.8,847.4Z" fill="#dedfe1" stroke="#dedfe1" stroke-width="0.6"/>
<path d="M922.5,834.6 L909.1,835.3 L909.2,848.9 L922.5,848.2Z" fill="#dcdddf" stroke="#dcdddf" stroke-width="0.6"/>
<path d="M909.1,835.3 L895.6,835.8 L895.7,849.4 L909.2,848.9Z" fill="#dadbdd" stroke="#dadbdd" stroke-width="0.6"/>
<path d="M895.6,835.8 L882.0,836.3 L882.1,849.8 L895.7,849.4Z" fill="#d9dadc" stroke="#d9dadc" stroke-width="0.6"/>
<path d="M882.0,836.3 L868.4,836.6 L868.5,850.0 L882.1,849.8Z" fill="#d9dadc" stroke="#d9dadc" stroke-width="0.6"/>
<path d="M868.4,836.6 L854.8,836.7 L854.8,850.0 L868.5,850.0Z" fill="#d8d9db" stroke="#d8d9db" stroke-width="0.6"/>
<path d="M856.5,835.8 L852.7,834.8 L852.8,848.0 L856.6,849.2Z" fill="#dedfe1" stroke="#dedfe1" stroke-width="0.6"/>
<path d="M852.7,834.8 L849.3,833.7 L849.3,846.9 L852.8,848.0Z" fill="#e1e2e4" stroke="#e1e2e4" stroke-width="0.6"/>
<path d="M849.3,833.7 L846.5,832.4 L846.6,845.6 L849.3,846.9Z" fill="#e4e5e7" stroke="#e4e5e7" stroke-width="0.6"/>
<path d="M846.5,832.4 L844.6,831.0 L844.7,844.3 L846.6,845.6Z" fill="#e7e8ea" stroke="#e7e8ea" stroke-width="0.6"/>
<path d="M844.6,831.0 L843.8,829.7 L843.9,842.9 L844.7,844.3Z" fill="#e8e9eb" stroke="#e8e9eb" stroke-width="0.6"/>
<path d="M843.8,829.7 L835.6,777.4 L835.7,790.2 L843.9,842.9Z" fill="#e8e9eb" stroke="#e8e9eb" stroke-width="0.6"/>
<path d="M1122.6,761.9 L1126.4,762.1 L1129.8,762.5 L1132.5,763.1 L1134.4,763.8 L1135.3,764.6 L1136.1,764.4 L1137.4,767.7 L1137.8,771.2 L1137.5,774.6 L1136.2,778.1 L1134.2,781.7 L1131.2,785.3 L1127.4,788.8 L1122.7,792.3 L1117.1,795.7 L1115.6,796.6 L1114.7,797.0 L1113.8,797.5 L1112.9,798.0 L1111.9,798.5 L1111.0,799.0 L1110.0,799.4 L1109.0,799.9 L1108.0,800.4 L1107.0,800.9 L1106.0,801.4 L1104.9,801.8 L1103.9,802.3 L1102.8,802.8 L1101.7,803.2 L1100.6,803.7 L1099.4,804.1 L1095.4,805.7 L1087.9,808.3 L1080.0,810.8 L1071.5,813.2 L1062.4,815.5 L1052.9,817.8 L1042.9,819.9 L1032.4,821.9 L1021.5,823.9 L1010.3,825.6 L998.6,827.3 L986.6,828.9 L974.3,830.3 L961.7,831.6 L948.8,832.7 L935.7,833.7 L922.5,834.6 L909.1,835.3 L895.6,835.8 L882.0,836.3 L868.4,836.6 L856.5,835.8 L852.7,834.8 L849.3,833.7 L846.5,832.4 L844.6,831.0 L843.8,829.7" fill="none" stroke="#85888c" stroke-width="1.0"/><path d="M1122.5,773.7 L1126.3,773.7 L1129.7,773.9 L1132.5,774.3 L1134.3,774.8 L1135.2,775.4 L1136.0,775.5 L1137.3,779.3 L1137.8,783.1 L1137.4,786.9 L1136.2,790.7 L1134.1,794.4 L1131.1,798.2 L1127.3,801.9 L1122.6,805.5 L1117.0,809.2 L1115.5,810.0 L1114.6,810.5 L1113.7,811.0 L1112.8,811.5 L1111.9,812.0 L1110.9,812.5 L1110.0,813.0 L1109.0,813.5 L1108.0,814.0 L1107.0,814.4 L1105.9,814.9 L1104.9,815.4 L1103.8,815.9 L1102.7,816.3 L1101.6,816.8 L1100.5,817.3 L1099.4,817.7 L1095.3,819.3 L1087.9,821.9 L1079.9,824.4 L1071.4,826.9 L1062.4,829.2 L1052.9,831.5 L1042.9,833.7 L1032.4,835.7 L1021.5,837.6 L1010.2,839.4 L998.6,841.1 L986.6,842.6 L974.3,844.0 L961.7,845.3 L948.8,846.4 L935.8,847.4 L922.5,848.2 L909.2,848.9 L895.7,849.4 L882.1,849.8 L868.5,850.0 L856.6,849.2 L852.8,848.0 L849.3,846.9 L846.6,845.6 L844.7,844.3 L843.9,842.9" fill="none" stroke="#f4f5f6" stroke-width="1.3"/>
<path d="M848.0,765.1 Q863.5,767.7 882.4,761.1 L882.4,794.5 L872.8,798.4 Q861.8,801.6 848.0,797.8Z" fill="url(#clipg)"/>
<path d="M882.0,759.5 Q882.4,756.0 879.6,755.1 Q884.2,753.1 886.0,757.5 L886.2,795.2 L882.2,794.1Z" fill="url(#tabg)"/>
<path d="M1104.9,909.7 L1127.4,908.2 L1133.9,909.2 L1136.5,913.8 L1137.6,925.4 L1137.0,976.0 C1137.0,996.7 1111.0,1023.0 1066.6,1038.2 L1061.4,1040.0 L1055.9,1041.8 L1050.3,1043.5 L1044.4,1045.2 L1038.4,1046.8 L1032.2,1048.4 L1025.9,1049.9 L1019.3,1051.4 L1012.6,1052.9 L1005.7,1054.2 L998.7,1055.6 L991.5,1056.9 L984.2,1058.1 L976.8,1059.2 L969.2,1060.3 L961.5,1061.4 L953.7,1062.4 L945.8,1063.3 L937.8,1064.1 L929.7,1064.9 L921.5,1065.7 L913.3,1066.3 L904.9,1066.9 L896.5,1067.4 L888.1,1067.9 L879.6,1068.3 L871.1,1068.6 L862.6,1068.9 L854.0,1069.1 L854.1,1066.3 L853.6,983.7 L851.7,974.7 L847.5,974.0" fill="none" stroke="#808387" stroke-width="4.7" stroke-linecap="round" stroke-linejoin="round"/><path d="M1104.9,909.7 L1127.4,908.2 L1133.9,909.2 L1136.5,913.8 L1137.6,925.4 L1137.0,976.0 C1137.0,996.7 1111.0,1023.0 1066.6,1038.2 L1061.4,1040.0 L1055.9,1041.8 L1050.3,1043.5 L1044.4,1045.2 L1038.4,1046.8 L1032.2,1048.4 L1025.9,1049.9 L1019.3,1051.4 L1012.6,1052.9 L1005.7,1054.2 L998.7,1055.6 L991.5,1056.9 L984.2,1058.1 L976.8,1059.2 L969.2,1060.3 L961.5,1061.4 L953.7,1062.4 L945.8,1063.3 L937.8,1064.1 L929.7,1064.9 L921.5,1065.7 L913.3,1066.3 L904.9,1066.9 L896.5,1067.4 L888.1,1067.9 L879.6,1068.3 L871.1,1068.6 L862.6,1068.9 L854.0,1069.1 L854.1,1066.3 L853.6,983.7 L851.7,974.7 L847.5,974.0" fill="none" stroke="#c2c4c6" stroke-width="1.69" stroke-linecap="round" stroke-linejoin="round"/></g>
<defs>
<linearGradient id="clipbody" x1="0" x2="1" y1="0" y2="0"><stop offset="0" stop-color="#858887"/><stop offset="0.12" stop-color="#7a7d7c"/><stop offset="0.45" stop-color="#6f7271"/><stop offset="1" stop-color="#747776"/></linearGradient>
<linearGradient id="cliptab" x1="0" x2="1" y1="0" y2="0"><stop offset="0" stop-color="#838685"/><stop offset="0.5" stop-color="#7b7e7d"/><stop offset="1" stop-color="#747776"/></linearGradient>
<linearGradient id="footbody" x1="0" x2="1" y1="0" y2="0"><stop offset="0" stop-color="#6c6f6e"/><stop offset="0.35" stop-color="#737675"/><stop offset="0.75" stop-color="#868988"/><stop offset="1" stop-color="#7b7e7d"/></linearGradient>
</defs>
<ellipse cx="926.4" cy="589.3" rx="29.4" ry="5.2" fill="#6d706f"/>
<rect x="897.0" y="587.0" width="58.8" height="2.3" fill="#6d706f"/>
<ellipse cx="926.4" cy="587.0" rx="29.4" ry="5.2" fill="#808382"/>
<ellipse cx="926.4" cy="586.4" rx="24.4" ry="3.8" fill="#767978"/>
<path d="M911.1,559.7 Q911.1,557.2 915.1,557.0 Q926.4,555.6 937.6,557.0 Q941.6,557.2 941.6,559.7 L941.6,585.0 Q941.9,588.5 945.6,589.6 Q926.4,592.5 907.1,589.6 Q910.9,588.5 911.1,585.0Z" fill="url(#footbody)"/>
<ellipse cx="926.4" cy="559.8" rx="12.7" ry="2.5" fill="#626564"/>
<ellipse cx="1016.4" cy="586.5" rx="30.1" ry="5.2" fill="#6d706f"/>
<rect x="986.3" y="584.2" width="60.2" height="2.3" fill="#6d706f"/>
<ellipse cx="1016.4" cy="584.2" rx="30.1" ry="5.2" fill="#808382"/>
<ellipse cx="1016.4" cy="583.6" rx="25.1" ry="3.8" fill="#767978"/>
<path d="M1001.1,556.2 Q1001.1,553.7 1005.1,553.5 Q1016.4,552.1 1027.7,553.5 Q1031.7,553.7 1031.7,556.2 L1031.7,582.2 Q1032.0,585.7 1035.7,586.8 Q1016.4,589.7 997.1,586.8 Q1000.9,585.7 1001.1,582.2Z" fill="url(#footbody)"/>
<ellipse cx="1016.4" cy="556.3" rx="12.7" ry="2.5" fill="#626564"/>
<path d="M863.4,654.2 L867.6,653.0 L874.6,651.4 Q875.4,651.2 875.4,652.4 L875.4,693.7 Q875.4,695.0 874.4,694.8 L867.6,693.6 L863.4,693.2Z" fill="#6c6f6e"/>
<path d="M868.0,653.2 L874.6,651.6 Q875.4,651.4 875.4,652.6 L875.4,693.5 Q875.4,694.8 874.4,694.6 L868.0,693.4Z" fill="#777a79"/>
<path d="M828.1,650.2 Q828.1,646.7 833.1,645.9 Q846.2,643.6 860.4,646.4 Q864.4,647.2 864.4,651.2 L864.4,693.2 Q846.2,700.4 828.1,694.2Z" fill="url(#clipbody)"/>
<ellipse cx="846.2" cy="649.6" rx="14.9" ry="3.5" fill="#5d605f"/>
<path d="M833.1,650.4 Q846.2,647.4 859.4,650.4 Q846.2,654.7 833.1,650.4Z" fill="#6a6d6c"/>
<path d="M830.1,690.7 Q846.2,696.0 862.4,690.2" fill="none" stroke="#666968" stroke-width="0.9"/>
<rect x="850.9" y="654.4" width="12.6" height="44.4" rx="2.2" fill="url(#cliptab)"/>
<path d="M932.7,654.2 L936.9,653.0 L943.9,651.4 Q944.7,651.2 944.7,652.4 L944.7,693.7 Q944.7,695.0 943.7,694.8 L936.9,693.6 L932.7,693.2Z" fill="#6c6f6e"/>
<path d="M937.3,653.2 L943.9,651.6 Q944.7,651.4 944.7,652.6 L944.7,693.5 Q944.7,694.8 943.7,694.6 L937.3,693.4Z" fill="#777a79"/>
<path d="M897.4,650.2 Q897.4,646.7 902.4,645.9 Q915.5,643.6 929.7,646.4 Q933.7,647.2 933.7,651.2 L933.7,693.2 Q915.5,700.4 897.4,694.2Z" fill="url(#clipbody)"/>
<ellipse cx="915.5" cy="649.6" rx="14.9" ry="3.5" fill="#5d605f"/>
<path d="M902.4,650.4 Q915.5,647.4 928.7,650.4 Q915.5,654.7 902.4,650.4Z" fill="#6a6d6c"/>
<path d="M899.4,690.7 Q915.5,696.0 931.7,690.2" fill="none" stroke="#666968" stroke-width="0.9"/>
<rect x="920.2" y="654.4" width="12.6" height="44.4" rx="2.2" fill="url(#cliptab)"/>
<path d="M1004.5,654.2 L1008.7,653.0 L1015.7,651.4 Q1016.5,651.2 1016.5,652.4 L1016.5,693.7 Q1016.5,695.0 1015.5,694.8 L1008.7,693.6 L1004.5,693.2Z" fill="#6c6f6e"/>
<path d="M1009.1,653.2 L1015.7,651.6 Q1016.5,651.4 1016.5,652.6 L1016.5,693.5 Q1016.5,694.8 1015.5,694.6 L1009.1,693.4Z" fill="#777a79"/>
<path d="M969.2,650.2 Q969.2,646.7 974.2,645.9 Q987.4,643.6 1001.5,646.4 Q1005.5,647.2 1005.5,651.2 L1005.5,693.2 Q987.4,700.4 969.2,694.2Z" fill="url(#clipbody)"/>
<ellipse cx="987.4" cy="649.6" rx="14.9" ry="3.5" fill="#5d605f"/>
<path d="M974.2,650.4 Q987.4,647.4 1000.5,650.4 Q987.4,654.7 974.2,650.4Z" fill="#6a6d6c"/>
<path d="M971.2,690.7 Q987.4,696.0 1003.5,690.2" fill="none" stroke="#666968" stroke-width="0.9"/>
<rect x="992.0" y="654.4" width="12.6" height="44.4" rx="2.2" fill="url(#cliptab)"/>
<path d="M1083.1,654.2 L1087.3,653.0 L1094.3,651.4 Q1095.1,651.2 1095.1,652.4 L1095.1,693.7 Q1095.1,695.0 1094.1,694.8 L1087.3,693.6 L1083.1,693.2Z" fill="#6c6f6e"/>
<path d="M1087.7,653.2 L1094.3,651.6 Q1095.1,651.4 1095.1,652.6 L1095.1,693.5 Q1095.1,694.8 1094.1,694.6 L1087.7,693.4Z" fill="#777a79"/>
<path d="M1047.8,650.2 Q1047.8,646.7 1052.8,645.9 Q1066.0,643.6 1080.1,646.4 Q1084.1,647.2 1084.1,651.2 L1084.1,693.2 Q1066.0,700.4 1047.8,694.2Z" fill="url(#clipbody)"/>
<ellipse cx="1066.0" cy="649.6" rx="14.9" ry="3.5" fill="#5d605f"/>
<path d="M1052.8,650.4 Q1066.0,647.4 1079.1,650.4 Q1066.0,654.7 1052.8,650.4Z" fill="#6a6d6c"/>
<path d="M1049.8,690.7 Q1066.0,696.0 1082.1,690.2" fill="none" stroke="#666968" stroke-width="0.9"/>
<rect x="1070.6" y="654.4" width="12.6" height="44.4" rx="2.2" fill="url(#cliptab)"/>
<g id="manual" transform="rotate(0.03 968 300)"><g fill="#1c1c1c">
<text x="1045.9" y="169" font-size="35" font-weight="700" textLength="45" lengthAdjust="spacingAndGlyphs" stroke="#1c1c1c" stroke-width="0.7" stroke-linejoin="round">eisl</text>
<path d="M1046,151.5 C1046.6,147.5 1048.6,143.4 1051.2,141.6 C1053.6,140 1056.4,140.6 1059.6,141.9 C1062.6,143.1 1065.6,144.6 1068.2,144.2 C1070.6,143.8 1071.8,141.6 1072.3,138.8 C1073.2,142.2 1072.4,145.4 1070.2,147.2 C1067.6,149.4 1064,148.6 1060.6,147.3 C1057.6,146.1 1055,144.6 1052.6,145 C1049.8,145.5 1047.8,148.2 1046,151.5Z"/>
<text x="1064" y="175.1" font-size="5.1" font-weight="700" textLength="25.8" lengthAdjust="spacingAndGlyphs">since 1980</text>
</g>
<text x="968.1" y="186.3" font-size="11.4" font-weight="700" fill="#1e1e1e" text-anchor="middle" textLength="98.6" lengthAdjust="spacingAndGlyphs">Montageanleitung</text>
<text x="967.5" y="198.9" font-size="10.6" fill="#222" text-anchor="middle" textLength="117.4" lengthAdjust="spacingAndGlyphs">Teleskop-Dusch-Eckregal</text>
<text x="967.5" y="208.8" font-size="7.6" fill="#404040" text-anchor="middle" textLength="159.6" lengthAdjust="spacingAndGlyphs">EL-BAD-BA0920-Teleskop-Dusch-Eckregal_1120</text>
<path d="M972.7,221.5 L972.7,403 M974.5,221.5 L974.5,403" stroke="#555" stroke-width="0.55" fill="none"/>
<path d="M971.6,220 L975.6,220 L974.8000000000001,222.2 L972.4,222.2Z M971.0,402.6 L976.2,402.6 L976.2,404.6 L971.0,404.6Z" fill="#666"/>
<path d="M972.2,254 L975.0,254 L975.0,256.5 L972.2,256.5Z M972.0,284 L975.2,284 L975.2,287 L972.0,287Z" fill="none" stroke="#555" stroke-width="0.5"/>
<path d="M960.1,294.6 L973.6,288.6 L987.1,294.6 Q973.6,300.1 960.1,294.6Z" fill="none" stroke="#3a3a3a" stroke-width="0.9"/>
<path d="M961.1,296.1 L962.1,302.6 Q973.6,309.1 985.1,302.6 L986.1,296.1" fill="none" stroke="#3a3a3a" stroke-width="0.8"/>
<path d="M962.1,302.6 L973.6,298.1 L985.1,302.6" fill="none" stroke="#555" stroke-width="0.5"/>
<path d="M963.9,295.7 L964.3,303.9 M966.7,296.5 L967.0,304.8 M969.4,297.0 L969.6,305.4 M972.2,297.3 L972.3,305.7 M975.0,297.3 L974.9,305.7 M977.8,297.0 L977.6,305.4 M980.5,296.5 L980.2,304.8 M983.3,295.7 L982.9,303.9" fill="none" stroke="#444" stroke-width="0.6"/>
<path d="M973.6,298.1 L965.9,304.4 M973.6,298.1 L969.8,305.4 M973.6,298.1 L973.6,305.8 M973.6,298.1 L977.4,305.4 M973.6,298.1 L981.3,304.4" fill="none" stroke="#555" stroke-width="0.5"/>
<path d="M960.1,317.4 L973.6,311.4 L987.1,317.4 Q973.6,322.9 960.1,317.4Z" fill="none" stroke="#3a3a3a" stroke-width="0.9"/>
<path d="M961.1,318.9 L962.1,325.4 Q973.6,331.9 985.1,325.4 L986.1,318.9" fill="none" stroke="#3a3a3a" stroke-width="0.8"/>
<path d="M962.1,325.4 L973.6,320.9 L985.1,325.4" fill="none" stroke="#555" stroke-width="0.5"/>
<path d="M963.9,318.5 L964.3,326.7 M966.7,319.3 L967.0,327.6 M969.4,319.8 L969.6,328.2 M972.2,320.1 L972.3,328.5 M975.0,320.1 L974.9,328.5 M977.8,319.8 L977.6,328.2 M980.5,319.3 L980.2,327.6 M983.3,318.5 L982.9,326.7" fill="none" stroke="#444" stroke-width="0.6"/>
<path d="M973.6,320.9 L965.9,327.2 M973.6,320.9 L969.8,328.2 M973.6,320.9 L973.6,328.6 M973.6,320.9 L977.4,328.2 M973.6,320.9 L981.3,327.2" fill="none" stroke="#555" stroke-width="0.5"/>
<path d="M960.1,341.6 L973.6,335.6 L987.1,341.6 Q973.6,347.1 960.1,341.6Z" fill="none" stroke="#3a3a3a" stroke-width="0.9"/>
<path d="M961.1,343.1 L962.1,349.6 Q973.6,356.1 985.1,349.6 L986.1,343.1" fill="none" stroke="#3a3a3a" stroke-width="0.8"/>
<path d="M962.1,349.6 L973.6,345.1 L985.1,349.6" fill="none" stroke="#555" stroke-width="0.5"/>
<path d="M963.9,342.7 L964.3,350.9 M966.7,343.5 L967.0,351.8 M969.4,344.0 L969.6,352.4 M972.2,344.3 L972.3,352.7 M975.0,344.3 L974.9,352.7 M977.8,344.0 L977.6,352.4 M980.5,343.5 L980.2,351.8 M983.3,342.7 L982.9,350.9" fill="none" stroke="#444" stroke-width="0.6"/>
<path d="M973.6,345.1 L965.9,351.4 M973.6,345.1 L969.8,352.4 M973.6,345.1 L973.6,352.8 M973.6,345.1 L977.4,352.4 M973.6,345.1 L981.3,351.4" fill="none" stroke="#555" stroke-width="0.5"/>
<path d="M960.1,368.6 L973.6,362.6 L987.1,368.6 Q973.6,374.1 960.1,368.6Z" fill="none" stroke="#3a3a3a" stroke-width="0.9"/>
<path d="M961.1,370.1 L962.1,376.6 Q973.6,383.1 985.1,376.6 L986.1,370.1" fill="none" stroke="#3a3a3a" stroke-width="0.8"/>
<path d="M962.1,376.6 L973.6,372.1 L985.1,376.6" fill="none" stroke="#555" stroke-width="0.5"/>
<path d="M963.9,369.7 L964.3,377.9 M966.7,370.5 L967.0,378.8 M969.4,371.0 L969.6,379.4 M972.2,371.3 L972.3,379.7 M975.0,371.3 L974.9,379.7 M977.8,371.0 L977.6,379.4 M980.5,370.5 L980.2,378.8 M983.3,369.7 L982.9,377.9" fill="none" stroke="#444" stroke-width="0.6"/>
<path d="M973.6,372.1 L965.9,378.4 M973.6,372.1 L969.8,379.4 M973.6,372.1 L973.6,379.8 M973.6,372.1 L977.4,379.4 M973.6,372.1 L981.3,378.4" fill="none" stroke="#555" stroke-width="0.5"/>
<path d="M960.1,352 Q973.6,361.5 987.1,352" fill="none" stroke="#444" stroke-width="0.6"/>
<path d="M962.6,381 l0,3 q0.8,1.6 1.6,0 M967.6,382.5 l0,3 q0.8,1.6 1.6,0 M983.6,381 l0,3 q0.8,1.6 1.6,0 M986.2,378.5 l0,3 q0.8,1.6 1.6,0" fill="none" stroke="#444" stroke-width="0.55"/>
<text x="858" y="419.4" font-size="6.9" font-weight="700" fill="#141414" textLength="55.8" lengthAdjust="spacingAndGlyphs">Montageanleitung</text>
<ellipse cx="850.0" cy="426.7" rx="3.7" ry="2.5" fill="none" stroke="#333" stroke-width="0.6"/><text x="850.0" y="427.9" font-size="3.3" font-weight="700" fill="#222" stroke="#222" stroke-width="0.15" text-anchor="middle">DE</text><text x="858.0" y="428.3" font-size="4.5" fill="#161616" stroke="#161616" stroke-width="0.14">Montageanleitung</text><path d="M893.2,428.0 L964.0,428.0" stroke="#333" stroke-width="0.7" stroke-dasharray="0.7 1.75" fill="none"/><text x="966.4" y="428.3" font-size="4.5" fill="#161616" stroke="#161616" stroke-width="0.12" text-anchor="end">2</text>
<ellipse cx="850.0" cy="434.6" rx="3.7" ry="2.5" fill="none" stroke="#333" stroke-width="0.6"/><text x="850.0" y="435.8" font-size="3.3" font-weight="700" fill="#222" stroke="#222" stroke-width="0.15" text-anchor="middle">CZ</text><text x="858.0" y="436.2" font-size="4.5" fill="#161616" stroke="#161616" stroke-width="0.14">Návod pro montáž</text><path d="M893.2,435.9 L964.0,435.9" stroke="#333" stroke-width="0.7" stroke-dasharray="0.7 1.75" fill="none"/><text x="966.4" y="436.2" font-size="4.5" fill="#161616" stroke="#161616" stroke-width="0.12" text-anchor="end">2</text>
<ellipse cx="850.0" cy="442.6" rx="3.7" ry="2.5" fill="none" stroke="#333" stroke-width="0.6"/><text x="850.0" y="443.8" font-size="3.3" font-weight="700" fill="#222" stroke="#222" stroke-width="0.15" text-anchor="middle">ES</text><text x="858.0" y="444.2" font-size="4.5" fill="#161616" stroke="#161616" stroke-width="0.14">Instrucciones de montaje</text><path d="M909.4,443.9 L964.0,443.9" stroke="#333" stroke-width="0.7" stroke-dasharray="0.7 1.75" fill="none"/><text x="966.4" y="444.2" font-size="4.5" fill="#161616" stroke="#161616" stroke-width="0.12" text-anchor="end">3</text>
<ellipse cx="850.0" cy="450.7" rx="3.7" ry="2.5" fill="none" stroke="#333" stroke-width="0.6"/><text x="850.0" y="451.9" font-size="3.3" font-weight="700" fill="#222" stroke="#222" stroke-width="0.15" text-anchor="middle">FR</text><text x="858.0" y="452.3" font-size="4.5" fill="#161616" stroke="#161616" stroke-width="0.14">Instructions de montage</text><path d="M907.4,452.0 L964.0,452.0" stroke="#333" stroke-width="0.7" stroke-dasharray="0.7 1.75" fill="none"/><text x="966.4" y="452.3" font-size="4.5" fill="#161616" stroke="#161616" stroke-width="0.12" text-anchor="end">3</text>
<ellipse cx="850.0" cy="458.7" rx="3.7" ry="2.5" fill="none" stroke="#333" stroke-width="0.6"/><text x="850.0" y="459.9" font-size="3.3" font-weight="700" fill="#222" stroke="#222" stroke-width="0.15" text-anchor="middle">GB</text><text x="858.0" y="460.3" font-size="4.5" fill="#161616" stroke="#161616" stroke-width="0.14">Installation instructions</text><path d="M911.4,460.0 L964.0,460.0" stroke="#333" stroke-width="0.7" stroke-dasharray="0.7 1.75" fill="none"/><text x="966.4" y="460.3" font-size="4.5" fill="#161616" stroke="#161616" stroke-width="0.12" text-anchor="end">4</text>
<ellipse cx="850.0" cy="466.7" rx="3.7" ry="2.5" fill="none" stroke="#333" stroke-width="0.6"/><text x="850.0" y="467.9" font-size="3.3" font-weight="700" fill="#222" stroke="#222" stroke-width="0.15" text-anchor="middle">HR</text><text x="858.0" y="468.3" font-size="4.5" fill="#161616" stroke="#161616" stroke-width="0.14">Uputstvo za montažu</text><path d="M899.3,468.0 L964.0,468.0" stroke="#333" stroke-width="0.7" stroke-dasharray="0.7 1.75" fill="none"/><text x="966.4" y="468.3" font-size="4.5" fill="#161616" stroke="#161616" stroke-width="0.12" text-anchor="end">4</text>
<ellipse cx="977.0" cy="426.7" rx="3.7" ry="2.5" fill="none" stroke="#333" stroke-width="0.6"/><text x="977.0" y="427.9" font-size="3.3" font-weight="700" fill="#222" stroke="#222" stroke-width="0.15" text-anchor="middle">HU</text><text x="985.0" y="428.3" font-size="4.5" fill="#161616" stroke="#161616" stroke-width="0.14">Szerelési útmutatás</text><path d="M1026.3,428.0 L1086.6,428.0" stroke="#333" stroke-width="0.7" stroke-dasharray="0.7 1.75" fill="none"/><text x="1089.0" y="428.3" font-size="4.5" fill="#161616" stroke="#161616" stroke-width="0.12" text-anchor="end">5</text>
<ellipse cx="977.0" cy="434.6" rx="3.7" ry="2.5" fill="none" stroke="#333" stroke-width="0.6"/><text x="977.0" y="435.8" font-size="3.3" font-weight="700" fill="#222" stroke="#222" stroke-width="0.15" text-anchor="middle">IT</text><text x="985.0" y="436.2" font-size="4.5" fill="#161616" stroke="#161616" stroke-width="0.14">Istruzioni di montaggio</text><path d="M1034.4,435.9 L1086.6,435.9" stroke="#333" stroke-width="0.7" stroke-dasharray="0.7 1.75" fill="none"/><text x="1089.0" y="436.2" font-size="4.5" fill="#161616" stroke="#161616" stroke-width="0.12" text-anchor="end">5</text>
<ellipse cx="977.0" cy="442.6" rx="3.7" ry="2.5" fill="none" stroke="#333" stroke-width="0.6"/><text x="977.0" y="443.8" font-size="3.3" font-weight="700" fill="#222" stroke="#222" stroke-width="0.15" text-anchor="middle">NL</text><text x="985.0" y="444.2" font-size="4.5" fill="#161616" stroke="#161616" stroke-width="0.14">Montagehandleiding</text><path d="M1024.3,443.9 L1086.6,443.9" stroke="#333" stroke-width="0.7" stroke-dasharray="0.7 1.75" fill="none"/><text x="1089.0" y="444.2" font-size="4.5" fill="#161616" stroke="#161616" stroke-width="0.12" text-anchor="end">6</text>
<ellipse cx="977.0" cy="450.7" rx="3.7" ry="2.5" fill="none" stroke="#333" stroke-width="0.6"/><text x="977.0" y="451.9" font-size="3.3" font-weight="700" fill="#222" stroke="#222" stroke-width="0.15" text-anchor="middle">PL</text><text x="985.0" y="452.3" font-size="4.5" fill="#161616" stroke="#161616" stroke-width="0.14">Instrukcja montażu</text><path d="M1024.3,452.0 L1086.6,452.0" stroke="#333" stroke-width="0.7" stroke-dasharray="0.7 1.75" fill="none"/><text x="1089.0" y="452.3" font-size="4.5" fill="#161616" stroke="#161616" stroke-width="0.12" text-anchor="end">6</text>
<ellipse cx="977.0" cy="458.7" rx="3.7" ry="2.5" fill="none" stroke="#333" stroke-width="0.6"/><text x="977.0" y="459.9" font-size="3.3" font-weight="700" fill="#222" stroke="#222" stroke-width="0.15" text-anchor="middle">SI</text><text x="985.0" y="460.3" font-size="4.5" fill="#161616" stroke="#161616" stroke-width="0.14">Navodila za montažo</text><path d="M1026.3,460.0 L1086.6,460.0" stroke="#333" stroke-width="0.7" stroke-dasharray="0.7 1.75" fill="none"/><text x="1089.0" y="460.3" font-size="4.5" fill="#161616" stroke="#161616" stroke-width="0.12" text-anchor="end">7</text>
<ellipse cx="977.0" cy="466.7" rx="3.7" ry="2.5" fill="none" stroke="#333" stroke-width="0.6"/><text x="977.0" y="467.9" font-size="3.3" font-weight="700" fill="#222" stroke="#222" stroke-width="0.15" text-anchor="middle">SK</text><text x="985.0" y="468.3" font-size="4.5" fill="#161616" stroke="#161616" stroke-width="0.14">Návod na montáž</text><path d="M1018.2,468.0 L1086.6,468.0" stroke="#333" stroke-width="0.7" stroke-dasharray="0.7 1.75" fill="none"/><text x="1089.0" y="468.3" font-size="4.5" fill="#161616" stroke="#161616" stroke-width="0.12" text-anchor="end">7</text>
<text x="967.8" y="499.6" font-size="6.1" fill="#1c1c1c" stroke="#1c1c1c" stroke-width="0.1" text-anchor="middle" textLength="213" lengthAdjust="spacingAndGlyphs">Eisl Sanitär GmbH • Himmelreich 1 • 5020 Salzburg (Austria) • info@eisl.at • www.eisl.at</text></g>
</svg>
</body></html>
